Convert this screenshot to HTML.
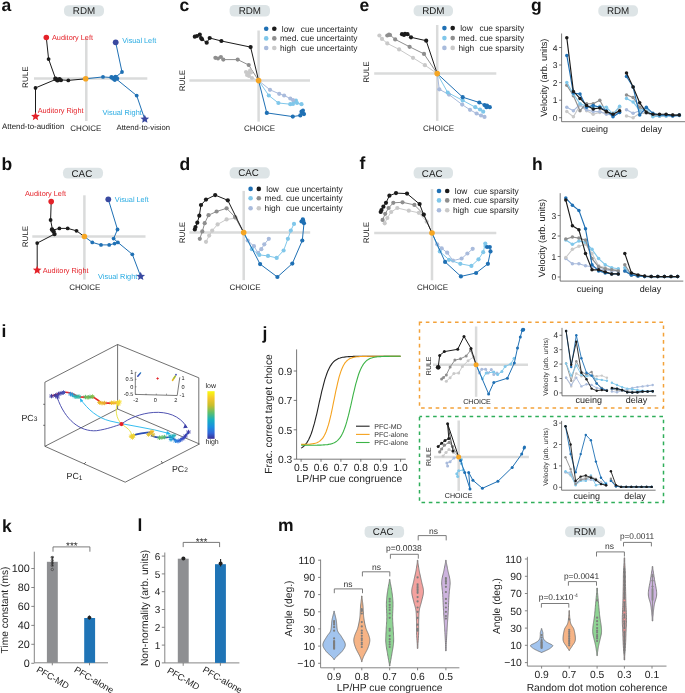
<!DOCTYPE html>
<html><head><meta charset="utf-8"><style>
html,body{margin:0;padding:0;background:#fff;}
svg{display:block;font-family:"Liberation Sans", sans-serif;filter:blur(0.35px);text-rendering:geometricPrecision;}
</style></head><body>
<svg width="685" height="693" viewBox="0 0 685 693">
<rect width="685" height="693" fill="#fff"/>
<text x="1.5" y="10.5" font-size="17.5" fill="#111" font-weight="bold">a</text>
<rect x="64" y="5.2" width="40" height="11.2" rx="4.6" fill="#dde4e6"/>
<text x="84.0" y="14.3" font-size="9.8" text-anchor="middle" fill="#222">RDM</text>
<line x1="86.3" y1="38.5" x2="86.3" y2="121.0" stroke="#dadbdb" stroke-width="2.5"/>
<line x1="34.0" y1="78.6" x2="147.3" y2="78.6" stroke="#dadbdb" stroke-width="2.5"/>
<text x="28.3" y="77.2" font-size="8.0" text-anchor="middle" fill="#222" transform="rotate(-90 28.3 77.2)">RULE</text>
<text x="85.9" y="130.6" font-size="8.0" text-anchor="middle" fill="#222">CHOICE</text>
<polyline points="46.3,37.5 48.6,59.1 55.5,78.5" fill="none" stroke="#1b1b1b" stroke-width="1" stroke-linejoin="round"/>
<polyline points="35.5,116.4 35.5,87.9 55.5,79.5" fill="none" stroke="#1b1b1b" stroke-width="1" stroke-linejoin="round"/>
<polyline points="55.5,79.5 68.3,80.4 85.7,78.8" fill="none" stroke="#1b1b1b" stroke-width="1" stroke-linejoin="round"/>
<circle cx="48.6" cy="59.1" r="1.9" fill="#1b1b1b"/>
<circle cx="35.5" cy="87.9" r="1.9" fill="#1b1b1b"/>
<circle cx="55.5" cy="78.8" r="2.4" fill="#1b1b1b"/>
<circle cx="57.5" cy="80.2" r="2.4" fill="#1b1b1b"/>
<circle cx="59.5" cy="79.3" r="2.2" fill="#1b1b1b"/>
<circle cx="61.0" cy="80.2" r="2" fill="#1b1b1b"/>
<circle cx="68.3" cy="80.4" r="1.9" fill="#1b1b1b"/>
<circle cx="46.3" cy="37.5" r="2.8" fill="#e42229"/>
<polygon points="35.50,111.90 36.72,114.83 39.87,115.08 37.47,117.14 38.20,120.22 35.50,118.57 32.80,120.22 33.53,117.14 31.13,115.08 34.28,114.83" fill="#e42229"/>
<text x="52.0" y="40.0" font-size="7.3" fill="#e42229">Auditory Left</text>
<text x="37.7" y="112.8" font-size="7.3" fill="#e42229">Auditory Right</text>
<text x="2.0" y="129.2" font-size="7.9" fill="#222">Attend-to-audition</text>
<polyline points="85.7,78.8 103.0,76.9 114.8,77.8" fill="none" stroke="#1f70b4" stroke-width="1" stroke-linejoin="round"/>
<polyline points="115.7,42.3 122.0,72.0 114.8,77.8" fill="none" stroke="#1f70b4" stroke-width="1" stroke-linejoin="round"/>
<polyline points="114.8,77.8 136.7,95.6 144.7,119.1" fill="none" stroke="#1f70b4" stroke-width="1" stroke-linejoin="round"/>
<circle cx="103.0" cy="76.9" r="1.9" fill="#1f70b4"/>
<circle cx="122.0" cy="72.0" r="1.9" fill="#1f70b4"/>
<circle cx="111.5" cy="77.3" r="2.2" fill="#1f70b4"/>
<circle cx="113.5" cy="78.5" r="2.4" fill="#1f70b4"/>
<circle cx="115.5" cy="77.0" r="2.2" fill="#1f70b4"/>
<circle cx="117.0" cy="78.5" r="2.2" fill="#1f70b4"/>
<circle cx="114.8" cy="80.0" r="1.9" fill="#1f70b4"/>
<circle cx="136.7" cy="95.6" r="1.9" fill="#1f70b4"/>
<circle cx="115.7" cy="42.3" r="2.9" fill="#3949a0"/>
<polygon points="144.80,114.50 146.02,117.43 149.17,117.68 146.77,119.74 147.50,122.82 144.80,121.17 142.10,122.82 142.83,119.74 140.43,117.68 143.58,117.43" fill="#3949a0"/>
<circle cx="85.7" cy="78.8" r="2.8" fill="#f6a623"/>
<text x="122.3" y="42.5" font-size="7.3" fill="#29abe2">Visual Left</text>
<text x="102.5" y="114.8" font-size="7.4" fill="#29abe2">Visual Right</text>
<text x="116.6" y="130.2" font-size="7.7" fill="#222">Attend-to-vision</text>
<text x="1.5" y="169.5" font-size="17.5" fill="#111" font-weight="bold">b</text>
<rect x="63" y="167.7" width="40" height="10.800000000000011" rx="4.6" fill="#dde4e6"/>
<text x="81.9" y="176.6" font-size="9.8" text-anchor="middle" fill="#222">CAC</text>
<line x1="84.4" y1="195.3" x2="84.4" y2="279.6" stroke="#dadbdb" stroke-width="2.5"/>
<line x1="32.3" y1="236.5" x2="145.5" y2="236.5" stroke="#dadbdb" stroke-width="2.5"/>
<text x="27.8" y="236.5" font-size="8.0" text-anchor="middle" fill="#222" transform="rotate(-90 27.8 236.5)">RULE</text>
<text x="84.8" y="289.8" font-size="8.0" text-anchor="middle" fill="#222">CHOICE</text>
<polyline points="51.2,201.6 50.6,220.0 52.6,230.2" fill="none" stroke="#1b1b1b" stroke-width="1" stroke-linejoin="round"/>
<polyline points="52.6,230.2 59.4,228.4 67.7,228.4 76.5,230.8 84.5,236.7" fill="none" stroke="#1b1b1b" stroke-width="1" stroke-linejoin="round"/>
<polyline points="37.2,270.2 37.2,243.1 54.5,234.1" fill="none" stroke="#1b1b1b" stroke-width="1" stroke-linejoin="round"/>
<circle cx="50.6" cy="220.0" r="1.9" fill="#1b1b1b"/>
<circle cx="52.0" cy="229.5" r="2.2" fill="#1b1b1b"/>
<circle cx="53.5" cy="231.2" r="2.2" fill="#1b1b1b"/>
<circle cx="54.5" cy="234.1" r="2.2" fill="#1b1b1b"/>
<circle cx="59.4" cy="228.4" r="1.9" fill="#1b1b1b"/>
<circle cx="67.7" cy="228.4" r="1.9" fill="#1b1b1b"/>
<circle cx="76.5" cy="230.8" r="1.9" fill="#1b1b1b"/>
<circle cx="37.2" cy="243.1" r="1.9" fill="#1b1b1b"/>
<circle cx="51.2" cy="201.6" r="2.8" fill="#e42229"/>
<polygon points="37.20,265.60 38.42,268.53 41.57,268.78 39.17,270.84 39.90,273.92 37.20,272.27 34.50,273.92 35.23,270.84 32.83,268.78 35.98,268.53" fill="#e42229"/>
<text x="25.0" y="195.9" font-size="7.3" fill="#e42229">Auditory Left</text>
<text x="42.7" y="273.0" font-size="7.3" fill="#e42229">Auditory Right</text>
<polyline points="84.5,236.7 92.3,242.4 101.0,244.9 109.2,244.9 114.6,243.6 117.9,242.4" fill="none" stroke="#1f70b4" stroke-width="1" stroke-linejoin="round"/>
<polyline points="108.3,199.3 117.5,229.5 113.6,238.6 117.9,242.4 132.3,254.3 140.7,276.4" fill="none" stroke="#1f70b4" stroke-width="1" stroke-linejoin="round"/>
<circle cx="92.3" cy="242.4" r="1.9" fill="#1f70b4"/>
<circle cx="101.0" cy="244.9" r="1.9" fill="#1f70b4"/>
<circle cx="109.2" cy="244.9" r="1.9" fill="#1f70b4"/>
<circle cx="114.6" cy="243.6" r="1.9" fill="#1f70b4"/>
<circle cx="117.9" cy="242.4" r="1.9" fill="#1f70b4"/>
<circle cx="113.6" cy="238.6" r="1.9" fill="#1f70b4"/>
<circle cx="117.5" cy="229.5" r="1.9" fill="#1f70b4"/>
<circle cx="132.3" cy="254.3" r="1.9" fill="#1f70b4"/>
<circle cx="108.3" cy="199.3" r="2.9" fill="#3949a0"/>
<polygon points="140.70,271.80 141.92,274.73 145.07,274.98 142.67,277.04 143.40,280.12 140.70,278.47 138.00,280.12 138.73,277.04 136.33,274.98 139.48,274.73" fill="#3949a0"/>
<circle cx="84.4" cy="236.5" r="2.8" fill="#f6a623"/>
<text x="114.8" y="201.8" font-size="7.3" fill="#29abe2">Visual Left</text>
<text x="98.0" y="279.2" font-size="7.4" fill="#29abe2">Visual Right</text>
<text x="179.5" y="11.0" font-size="17.5" fill="#111" font-weight="bold">c</text>
<rect x="229.6" y="5" width="40.400000000000006" height="11.600000000000001" rx="4.6" fill="#dde4e6"/>
<text x="249.8" y="14.3" font-size="9.8" text-anchor="middle" fill="#222">RDM</text>
<line x1="258.6" y1="30.5" x2="258.6" y2="121.6" stroke="#dadbdb" stroke-width="2.5"/>
<line x1="189.4" y1="80.6" x2="310.0" y2="80.6" stroke="#dadbdb" stroke-width="2.5"/>
<text x="184.9" y="80.6" font-size="8.0" text-anchor="middle" fill="#222" transform="rotate(-90 184.9 80.6)">RULE</text>
<text x="259.6" y="130.5" font-size="8.0" text-anchor="middle" fill="#222">CHOICE</text>
<polyline points="194.8,36.7 199.8,34.7 202.0,39.2 206.7,42.7 209.7,38.0 221.4,41.0 250.6,47.1 258.6,80.6" fill="none" stroke="#1b1b1b" stroke-width="1" stroke-linejoin="round"/>
<circle cx="194.8" cy="36.7" r="2.1" fill="#1b1b1b"/>
<circle cx="199.8" cy="34.7" r="2.1" fill="#1b1b1b"/>
<circle cx="202.0" cy="39.2" r="2.1" fill="#1b1b1b"/>
<circle cx="206.7" cy="42.7" r="2.1" fill="#1b1b1b"/>
<circle cx="209.7" cy="38.0" r="2.1" fill="#1b1b1b"/>
<circle cx="221.4" cy="41.0" r="2.1" fill="#1b1b1b"/>
<circle cx="250.6" cy="47.1" r="2.1" fill="#1b1b1b"/>
<circle cx="258.6" cy="80.6" r="2.1" fill="#1b1b1b"/>
<circle cx="197.0" cy="36.0" r="2" fill="#1b1b1b"/>
<circle cx="201.0" cy="38.0" r="2" fill="#1b1b1b"/>
<polyline points="215.4,57.8 220.9,57.0 223.3,59.6 237.7,59.6 248.7,65.0 258.6,80.6" fill="none" stroke="#8e8e8e" stroke-width="1" stroke-linejoin="round"/>
<circle cx="215.4" cy="57.8" r="2.1" fill="#8e8e8e"/>
<circle cx="220.9" cy="57.0" r="2.1" fill="#8e8e8e"/>
<circle cx="223.3" cy="59.6" r="2.1" fill="#8e8e8e"/>
<circle cx="237.7" cy="59.6" r="2.1" fill="#8e8e8e"/>
<circle cx="248.7" cy="65.0" r="2.1" fill="#8e8e8e"/>
<circle cx="258.6" cy="80.6" r="2.1" fill="#8e8e8e"/>
<circle cx="218.0" cy="58.5" r="2" fill="#8e8e8e"/>
<polyline points="246.0,72.0 248.2,73.2 251.0,72.5 249.0,76.0 252.0,78.0 258.6,80.6" fill="none" stroke="#c9c9c9" stroke-width="1" stroke-linejoin="round"/>
<circle cx="246.0" cy="72.0" r="2.1" fill="#c9c9c9"/>
<circle cx="248.2" cy="73.2" r="2.1" fill="#c9c9c9"/>
<circle cx="251.0" cy="72.5" r="2.1" fill="#c9c9c9"/>
<circle cx="249.0" cy="76.0" r="2.1" fill="#c9c9c9"/>
<circle cx="252.0" cy="78.0" r="2.1" fill="#c9c9c9"/>
<circle cx="258.6" cy="80.6" r="2.1" fill="#c9c9c9"/>
<circle cx="247.0" cy="75.0" r="2" fill="#c9c9c9"/>
<circle cx="250.0" cy="70.5" r="2" fill="#c9c9c9"/>
<polyline points="258.6,80.6 266.8,112.9 292.8,116.6 300.3,115.4 301.5,111.7 304.0,114.1" fill="none" stroke="#1f70b4" stroke-width="1" stroke-linejoin="round"/>
<circle cx="258.6" cy="80.6" r="2.1" fill="#1f70b4"/>
<circle cx="266.8" cy="112.9" r="2.1" fill="#1f70b4"/>
<circle cx="292.8" cy="116.6" r="2.1" fill="#1f70b4"/>
<circle cx="300.3" cy="115.4" r="2.1" fill="#1f70b4"/>
<circle cx="301.5" cy="111.7" r="2.1" fill="#1f70b4"/>
<circle cx="304.0" cy="114.1" r="2.1" fill="#1f70b4"/>
<circle cx="302.5" cy="113.0" r="2.2" fill="#1f70b4"/>
<circle cx="303.0" cy="110.5" r="2" fill="#1f70b4"/>
<polyline points="258.6,80.6 268.8,95.5 278.4,103.0 290.3,104.2 294.0,101.7 297.0,103.0 301.5,104.2" fill="none" stroke="#80c7ea" stroke-width="1" stroke-linejoin="round"/>
<circle cx="258.6" cy="80.6" r="2.1" fill="#80c7ea"/>
<circle cx="268.8" cy="95.5" r="2.1" fill="#80c7ea"/>
<circle cx="278.4" cy="103.0" r="2.1" fill="#80c7ea"/>
<circle cx="290.3" cy="104.2" r="2.1" fill="#80c7ea"/>
<circle cx="294.0" cy="101.7" r="2.1" fill="#80c7ea"/>
<circle cx="297.0" cy="103.0" r="2.1" fill="#80c7ea"/>
<circle cx="301.5" cy="104.2" r="2.1" fill="#80c7ea"/>
<circle cx="293.0" cy="104.0" r="2" fill="#80c7ea"/>
<circle cx="296.0" cy="100.5" r="2" fill="#80c7ea"/>
<polyline points="258.6,80.6 270.0,89.8 279.2,93.8 284.1,95.5 290.3,98.5 293.0,100.0" fill="none" stroke="#a9bbdc" stroke-width="1" stroke-linejoin="round"/>
<circle cx="258.6" cy="80.6" r="2.1" fill="#a9bbdc"/>
<circle cx="270.0" cy="89.8" r="2.1" fill="#a9bbdc"/>
<circle cx="279.2" cy="93.8" r="2.1" fill="#a9bbdc"/>
<circle cx="284.1" cy="95.5" r="2.1" fill="#a9bbdc"/>
<circle cx="290.3" cy="98.5" r="2.1" fill="#a9bbdc"/>
<circle cx="293.0" cy="100.0" r="2.1" fill="#a9bbdc"/>
<circle cx="258.6" cy="80.6" r="2.8" fill="#f6a623"/>
<circle cx="266.2" cy="28.8" r="2.3" fill="#1f70b4"/>
<circle cx="274.3" cy="28.8" r="2.3" fill="#1b1b1b"/>
<text x="281.8" y="31.6" font-size="8.4" fill="#222">low</text>
<text x="300.7" y="31.6" font-size="8.4" fill="#222">cue uncertainty</text>
<circle cx="266.2" cy="38.4" r="2.3" fill="#80c7ea"/>
<circle cx="274.3" cy="38.4" r="2.3" fill="#8e8e8e"/>
<text x="280.0" y="41.2" font-size="8.4" fill="#222">med.</text>
<text x="300.7" y="41.2" font-size="8.4" fill="#222">cue uncertainty</text>
<circle cx="266.2" cy="48.0" r="2.3" fill="#a9bbdc"/>
<circle cx="274.3" cy="48.0" r="2.3" fill="#c9c9c9"/>
<text x="280.0" y="50.8" font-size="8.4" fill="#222">high</text>
<text x="300.7" y="50.8" font-size="8.4" fill="#222">cue uncertainty</text>
<text x="359.5" y="10.5" font-size="17.5" fill="#111" font-weight="bold">e</text>
<rect x="413.6" y="5.3" width="39.39999999999998" height="11.0" rx="4.6" fill="#dde4e6"/>
<text x="433.3" y="14.3" font-size="9.8" text-anchor="middle" fill="#222">RDM</text>
<line x1="437.2" y1="25.0" x2="437.2" y2="120.9" stroke="#dadbdb" stroke-width="2.5"/>
<line x1="374.2" y1="73.6" x2="496.3" y2="73.6" stroke="#dadbdb" stroke-width="2.5"/>
<text x="369.5" y="72.2" font-size="8.0" text-anchor="middle" fill="#222" transform="rotate(-90 369.5 72.2)">RULE</text>
<text x="438.6" y="130.6" font-size="8.0" text-anchor="middle" fill="#222">CHOICE</text>
<polyline points="379.4,35.5 382.0,38.9 387.3,43.4 399.1,49.4 413.0,57.8 424.9,65.2 437.2,73.6" fill="none" stroke="#c9c9c9" stroke-width="1" stroke-linejoin="round"/>
<circle cx="379.4" cy="35.5" r="2.1" fill="#c9c9c9"/>
<circle cx="382.0" cy="38.9" r="2.1" fill="#c9c9c9"/>
<circle cx="387.3" cy="43.4" r="2.1" fill="#c9c9c9"/>
<circle cx="399.1" cy="49.4" r="2.1" fill="#c9c9c9"/>
<circle cx="413.0" cy="57.8" r="2.1" fill="#c9c9c9"/>
<circle cx="424.9" cy="65.2" r="2.1" fill="#c9c9c9"/>
<circle cx="437.2" cy="73.6" r="2.1" fill="#c9c9c9"/>
<polyline points="387.3,35.5 390.0,35.0 395.2,39.4 409.6,46.8 424.0,53.9 437.2,73.6" fill="none" stroke="#8e8e8e" stroke-width="1" stroke-linejoin="round"/>
<circle cx="387.3" cy="35.5" r="2.1" fill="#8e8e8e"/>
<circle cx="390.0" cy="35.0" r="2.1" fill="#8e8e8e"/>
<circle cx="395.2" cy="39.4" r="2.1" fill="#8e8e8e"/>
<circle cx="409.6" cy="46.8" r="2.1" fill="#8e8e8e"/>
<circle cx="424.0" cy="53.9" r="2.1" fill="#8e8e8e"/>
<circle cx="437.2" cy="73.6" r="2.1" fill="#8e8e8e"/>
<circle cx="389.0" cy="34.5" r="2" fill="#8e8e8e"/>
<polyline points="402.0,34.2 405.0,33.8 407.5,34.2 411.0,37.3 426.2,40.7 437.2,73.6" fill="none" stroke="#1b1b1b" stroke-width="1" stroke-linejoin="round"/>
<circle cx="402.0" cy="34.2" r="2.1" fill="#1b1b1b"/>
<circle cx="405.0" cy="33.8" r="2.1" fill="#1b1b1b"/>
<circle cx="407.5" cy="34.2" r="2.1" fill="#1b1b1b"/>
<circle cx="411.0" cy="37.3" r="2.1" fill="#1b1b1b"/>
<circle cx="426.2" cy="40.7" r="2.1" fill="#1b1b1b"/>
<circle cx="437.2" cy="73.6" r="2.1" fill="#1b1b1b"/>
<circle cx="404.0" cy="35.0" r="2" fill="#1b1b1b"/>
<polyline points="437.2,73.6 439.3,89.3 449.0,94.6 462.2,104.6 470.0,109.8 476.6,113.5 481.0,115.5 484.5,116.9" fill="none" stroke="#a9bbdc" stroke-width="1" stroke-linejoin="round"/>
<circle cx="437.2" cy="73.6" r="2.1" fill="#a9bbdc"/>
<circle cx="439.3" cy="89.3" r="2.1" fill="#a9bbdc"/>
<circle cx="449.0" cy="94.6" r="2.1" fill="#a9bbdc"/>
<circle cx="462.2" cy="104.6" r="2.1" fill="#a9bbdc"/>
<circle cx="470.0" cy="109.8" r="2.1" fill="#a9bbdc"/>
<circle cx="476.6" cy="113.5" r="2.1" fill="#a9bbdc"/>
<circle cx="481.0" cy="115.5" r="2.1" fill="#a9bbdc"/>
<circle cx="484.5" cy="116.9" r="2.1" fill="#a9bbdc"/>
<polyline points="437.2,73.6 447.7,92.5 462.7,100.4 475.3,107.2 480.0,109.5 483.2,111.7" fill="none" stroke="#80c7ea" stroke-width="1" stroke-linejoin="round"/>
<circle cx="437.2" cy="73.6" r="2.1" fill="#80c7ea"/>
<circle cx="447.7" cy="92.5" r="2.1" fill="#80c7ea"/>
<circle cx="462.7" cy="100.4" r="2.1" fill="#80c7ea"/>
<circle cx="475.3" cy="107.2" r="2.1" fill="#80c7ea"/>
<circle cx="480.0" cy="109.5" r="2.1" fill="#80c7ea"/>
<circle cx="483.2" cy="111.7" r="2.1" fill="#80c7ea"/>
<polyline points="437.2,73.6 462.7,97.2 479.3,102.5 484.5,105.1 487.0,105.5 489.8,107.2" fill="none" stroke="#1f70b4" stroke-width="1" stroke-linejoin="round"/>
<circle cx="437.2" cy="73.6" r="2.1" fill="#1f70b4"/>
<circle cx="462.7" cy="97.2" r="2.1" fill="#1f70b4"/>
<circle cx="479.3" cy="102.5" r="2.1" fill="#1f70b4"/>
<circle cx="484.5" cy="105.1" r="2.1" fill="#1f70b4"/>
<circle cx="487.0" cy="105.5" r="2.1" fill="#1f70b4"/>
<circle cx="489.8" cy="107.2" r="2.1" fill="#1f70b4"/>
<circle cx="486.5" cy="107.0" r="2.2" fill="#1f70b4"/>
<circle cx="437.2" cy="73.6" r="2.8" fill="#f6a623"/>
<circle cx="444.4" cy="28.1" r="2.3" fill="#1f70b4"/>
<circle cx="452.7" cy="28.1" r="2.3" fill="#1b1b1b"/>
<text x="460.2" y="30.9" font-size="8.4" fill="#222">low</text>
<text x="479.5" y="30.9" font-size="8.4" fill="#222">cue sparsity</text>
<circle cx="444.4" cy="38.1" r="2.3" fill="#80c7ea"/>
<circle cx="452.7" cy="38.1" r="2.3" fill="#8e8e8e"/>
<text x="458.4" y="40.9" font-size="8.4" fill="#222">med.</text>
<text x="479.5" y="40.9" font-size="8.4" fill="#222">cue sparsity</text>
<circle cx="444.4" cy="47.9" r="2.3" fill="#a9bbdc"/>
<circle cx="452.7" cy="47.9" r="2.3" fill="#c9c9c9"/>
<text x="458.4" y="50.7" font-size="8.4" fill="#222">high</text>
<text x="479.5" y="50.7" font-size="8.4" fill="#222">cue sparsity</text>
<text x="531.0" y="10.6" font-size="17.5" fill="#111" font-weight="bold">g</text>
<rect x="598.3" y="5.3" width="39.700000000000045" height="11.099999999999998" rx="4.6" fill="#dde4e6"/>
<text x="618.1" y="14.4" font-size="9.8" text-anchor="middle" fill="#222">RDM</text>
<line x1="561.6" y1="33.5" x2="561.6" y2="121.7" stroke="#555" stroke-width="0.8"/>
<line x1="561.6" y1="121.7" x2="685.0" y2="121.7" stroke="#555" stroke-width="0.8"/>
<line x1="559.1" y1="117.7" x2="561.6" y2="117.7" stroke="#555" stroke-width="0.8"/>
<text x="557.6" y="120.8" font-size="8.5" text-anchor="end" fill="#222">0</text>
<line x1="559.1" y1="100.2" x2="561.6" y2="100.2" stroke="#555" stroke-width="0.8"/>
<text x="557.6" y="103.2" font-size="8.5" text-anchor="end" fill="#222">1</text>
<line x1="559.1" y1="82.6" x2="561.6" y2="82.6" stroke="#555" stroke-width="0.8"/>
<text x="557.6" y="85.7" font-size="8.5" text-anchor="end" fill="#222">2</text>
<line x1="559.1" y1="65.0" x2="561.6" y2="65.0" stroke="#555" stroke-width="0.8"/>
<text x="557.6" y="68.1" font-size="8.5" text-anchor="end" fill="#222">3</text>
<line x1="559.1" y1="47.5" x2="561.6" y2="47.5" stroke="#555" stroke-width="0.8"/>
<text x="557.6" y="50.6" font-size="8.5" text-anchor="end" fill="#222">4</text>
<text x="547.2" y="77.7" font-size="9.2" text-anchor="middle" fill="#222" transform="rotate(-90 547.2 77.7)">Velocity (arb. units)</text>
<text x="594.7" y="131.7" font-size="9" text-anchor="middle" fill="#222">cueing</text>
<text x="651.2" y="131.7" font-size="9" text-anchor="middle" fill="#222">delay</text>
<polyline points="566.8,111.6 573.4,116.8 580.0,105.4 586.6,110.7 593.2,114.2 599.8,112.4 606.4,112.4 613.0,114.2 619.6,107.2" fill="none" stroke="#c9c9c9" stroke-width="1.15" stroke-linejoin="round"/>
<circle cx="566.8" cy="111.6" r="1.75" fill="#c9c9c9"/>
<circle cx="573.4" cy="116.8" r="1.75" fill="#c9c9c9"/>
<circle cx="580.0" cy="105.4" r="1.75" fill="#c9c9c9"/>
<circle cx="586.6" cy="110.7" r="1.75" fill="#c9c9c9"/>
<circle cx="593.2" cy="114.2" r="1.75" fill="#c9c9c9"/>
<circle cx="599.8" cy="112.4" r="1.75" fill="#c9c9c9"/>
<circle cx="606.4" cy="112.4" r="1.75" fill="#c9c9c9"/>
<circle cx="613.0" cy="114.2" r="1.75" fill="#c9c9c9"/>
<circle cx="619.6" cy="107.2" r="1.75" fill="#c9c9c9"/>
<polyline points="626.5,115.9 633.1,117.7 639.7,113.3 646.3,113.3 652.9,115.1 659.5,115.9 666.1,115.9 672.7,115.9 679.3,115.6" fill="none" stroke="#c9c9c9" stroke-width="1.15" stroke-linejoin="round"/>
<circle cx="626.5" cy="115.9" r="1.75" fill="#c9c9c9"/>
<circle cx="633.1" cy="117.7" r="1.75" fill="#c9c9c9"/>
<circle cx="639.7" cy="113.3" r="1.75" fill="#c9c9c9"/>
<circle cx="646.3" cy="113.3" r="1.75" fill="#c9c9c9"/>
<circle cx="652.9" cy="115.1" r="1.75" fill="#c9c9c9"/>
<circle cx="659.5" cy="115.9" r="1.75" fill="#c9c9c9"/>
<circle cx="666.1" cy="115.9" r="1.75" fill="#c9c9c9"/>
<circle cx="672.7" cy="115.9" r="1.75" fill="#c9c9c9"/>
<circle cx="679.3" cy="115.6" r="1.75" fill="#c9c9c9"/>
<polyline points="566.8,107.2 573.4,110.7 580.0,104.5 586.6,109.8 593.2,111.6 599.8,111.6 606.4,114.2 613.0,115.1 619.6,112.4" fill="none" stroke="#a9bbdc" stroke-width="1.15" stroke-linejoin="round"/>
<circle cx="566.8" cy="107.2" r="1.75" fill="#a9bbdc"/>
<circle cx="573.4" cy="110.7" r="1.75" fill="#a9bbdc"/>
<circle cx="580.0" cy="104.5" r="1.75" fill="#a9bbdc"/>
<circle cx="586.6" cy="109.8" r="1.75" fill="#a9bbdc"/>
<circle cx="593.2" cy="111.6" r="1.75" fill="#a9bbdc"/>
<circle cx="599.8" cy="111.6" r="1.75" fill="#a9bbdc"/>
<circle cx="606.4" cy="114.2" r="1.75" fill="#a9bbdc"/>
<circle cx="613.0" cy="115.1" r="1.75" fill="#a9bbdc"/>
<circle cx="619.6" cy="112.4" r="1.75" fill="#a9bbdc"/>
<polyline points="626.5,109.8 633.1,113.3 639.7,110.7 646.3,112.4 652.9,115.1 659.5,115.6 666.1,115.9 672.7,115.9 679.3,115.6" fill="none" stroke="#a9bbdc" stroke-width="1.15" stroke-linejoin="round"/>
<circle cx="626.5" cy="109.8" r="1.75" fill="#a9bbdc"/>
<circle cx="633.1" cy="113.3" r="1.75" fill="#a9bbdc"/>
<circle cx="639.7" cy="110.7" r="1.75" fill="#a9bbdc"/>
<circle cx="646.3" cy="112.4" r="1.75" fill="#a9bbdc"/>
<circle cx="652.9" cy="115.1" r="1.75" fill="#a9bbdc"/>
<circle cx="659.5" cy="115.6" r="1.75" fill="#a9bbdc"/>
<circle cx="666.1" cy="115.9" r="1.75" fill="#a9bbdc"/>
<circle cx="672.7" cy="115.9" r="1.75" fill="#a9bbdc"/>
<circle cx="679.3" cy="115.6" r="1.75" fill="#a9bbdc"/>
<polyline points="566.8,85.2 573.4,95.8 580.0,110.7 586.6,103.7 593.2,103.7 599.8,100.2 606.4,112.4 613.0,113.3 619.6,111.6" fill="none" stroke="#8e8e8e" stroke-width="1.15" stroke-linejoin="round"/>
<circle cx="566.8" cy="85.2" r="1.75" fill="#8e8e8e"/>
<circle cx="573.4" cy="95.8" r="1.75" fill="#8e8e8e"/>
<circle cx="580.0" cy="110.7" r="1.75" fill="#8e8e8e"/>
<circle cx="586.6" cy="103.7" r="1.75" fill="#8e8e8e"/>
<circle cx="593.2" cy="103.7" r="1.75" fill="#8e8e8e"/>
<circle cx="599.8" cy="100.2" r="1.75" fill="#8e8e8e"/>
<circle cx="606.4" cy="112.4" r="1.75" fill="#8e8e8e"/>
<circle cx="613.0" cy="113.3" r="1.75" fill="#8e8e8e"/>
<circle cx="619.6" cy="111.6" r="1.75" fill="#8e8e8e"/>
<polyline points="626.5,94.9 633.1,97.5 639.7,107.2 646.3,111.6 652.9,115.9 659.5,115.9 666.1,115.1 672.7,115.1 679.3,115.1" fill="none" stroke="#8e8e8e" stroke-width="1.15" stroke-linejoin="round"/>
<circle cx="626.5" cy="94.9" r="1.75" fill="#8e8e8e"/>
<circle cx="633.1" cy="97.5" r="1.75" fill="#8e8e8e"/>
<circle cx="639.7" cy="107.2" r="1.75" fill="#8e8e8e"/>
<circle cx="646.3" cy="111.6" r="1.75" fill="#8e8e8e"/>
<circle cx="652.9" cy="115.9" r="1.75" fill="#8e8e8e"/>
<circle cx="659.5" cy="115.9" r="1.75" fill="#8e8e8e"/>
<circle cx="666.1" cy="115.1" r="1.75" fill="#8e8e8e"/>
<circle cx="672.7" cy="115.1" r="1.75" fill="#8e8e8e"/>
<circle cx="679.3" cy="115.1" r="1.75" fill="#8e8e8e"/>
<polyline points="566.8,82.6 573.4,94.0 580.0,103.7 586.6,106.3 593.2,107.2 599.8,106.3 606.4,107.2 613.0,114.2 619.6,106.3" fill="none" stroke="#80c7ea" stroke-width="1.15" stroke-linejoin="round"/>
<circle cx="566.8" cy="82.6" r="1.75" fill="#80c7ea"/>
<circle cx="573.4" cy="94.0" r="1.75" fill="#80c7ea"/>
<circle cx="580.0" cy="103.7" r="1.75" fill="#80c7ea"/>
<circle cx="586.6" cy="106.3" r="1.75" fill="#80c7ea"/>
<circle cx="593.2" cy="107.2" r="1.75" fill="#80c7ea"/>
<circle cx="599.8" cy="106.3" r="1.75" fill="#80c7ea"/>
<circle cx="606.4" cy="107.2" r="1.75" fill="#80c7ea"/>
<circle cx="613.0" cy="114.2" r="1.75" fill="#80c7ea"/>
<circle cx="619.6" cy="106.3" r="1.75" fill="#80c7ea"/>
<polyline points="626.5,98.4 633.1,101.9 639.7,110.7 646.3,108.0 652.9,116.8 659.5,115.9 666.1,115.9 672.7,115.6 679.3,115.6" fill="none" stroke="#80c7ea" stroke-width="1.15" stroke-linejoin="round"/>
<circle cx="626.5" cy="98.4" r="1.75" fill="#80c7ea"/>
<circle cx="633.1" cy="101.9" r="1.75" fill="#80c7ea"/>
<circle cx="639.7" cy="110.7" r="1.75" fill="#80c7ea"/>
<circle cx="646.3" cy="108.0" r="1.75" fill="#80c7ea"/>
<circle cx="652.9" cy="116.8" r="1.75" fill="#80c7ea"/>
<circle cx="659.5" cy="115.9" r="1.75" fill="#80c7ea"/>
<circle cx="666.1" cy="115.9" r="1.75" fill="#80c7ea"/>
<circle cx="672.7" cy="115.6" r="1.75" fill="#80c7ea"/>
<circle cx="679.3" cy="115.6" r="1.75" fill="#80c7ea"/>
<polyline points="566.8,55.4 573.4,93.1 580.0,94.0 586.6,107.2 593.2,105.4 599.8,107.2 606.4,110.7 613.0,116.8 619.6,112.4" fill="none" stroke="#1f70b4" stroke-width="1.15" stroke-linejoin="round"/>
<circle cx="566.8" cy="55.4" r="1.75" fill="#1f70b4"/>
<circle cx="573.4" cy="93.1" r="1.75" fill="#1f70b4"/>
<circle cx="580.0" cy="94.0" r="1.75" fill="#1f70b4"/>
<circle cx="586.6" cy="107.2" r="1.75" fill="#1f70b4"/>
<circle cx="593.2" cy="105.4" r="1.75" fill="#1f70b4"/>
<circle cx="599.8" cy="107.2" r="1.75" fill="#1f70b4"/>
<circle cx="606.4" cy="110.7" r="1.75" fill="#1f70b4"/>
<circle cx="613.0" cy="116.8" r="1.75" fill="#1f70b4"/>
<circle cx="619.6" cy="112.4" r="1.75" fill="#1f70b4"/>
<polyline points="626.5,76.5 633.1,87.0 639.7,115.1 646.3,107.2 652.9,113.3 659.5,115.1 666.1,115.1 672.7,115.9 679.3,115.1" fill="none" stroke="#1f70b4" stroke-width="1.15" stroke-linejoin="round"/>
<circle cx="626.5" cy="76.5" r="1.75" fill="#1f70b4"/>
<circle cx="633.1" cy="87.0" r="1.75" fill="#1f70b4"/>
<circle cx="639.7" cy="115.1" r="1.75" fill="#1f70b4"/>
<circle cx="646.3" cy="107.2" r="1.75" fill="#1f70b4"/>
<circle cx="652.9" cy="113.3" r="1.75" fill="#1f70b4"/>
<circle cx="659.5" cy="115.1" r="1.75" fill="#1f70b4"/>
<circle cx="666.1" cy="115.1" r="1.75" fill="#1f70b4"/>
<circle cx="672.7" cy="115.9" r="1.75" fill="#1f70b4"/>
<circle cx="679.3" cy="115.1" r="1.75" fill="#1f70b4"/>
<polyline points="566.8,37.8 573.4,91.4 580.0,98.4 586.6,105.4 593.2,108.9 599.8,108.0 606.4,111.6 613.0,114.2 619.6,110.7" fill="none" stroke="#1b1b1b" stroke-width="1.15" stroke-linejoin="round"/>
<circle cx="566.8" cy="37.8" r="1.75" fill="#1b1b1b"/>
<circle cx="573.4" cy="91.4" r="1.75" fill="#1b1b1b"/>
<circle cx="580.0" cy="98.4" r="1.75" fill="#1b1b1b"/>
<circle cx="586.6" cy="105.4" r="1.75" fill="#1b1b1b"/>
<circle cx="593.2" cy="108.9" r="1.75" fill="#1b1b1b"/>
<circle cx="599.8" cy="108.0" r="1.75" fill="#1b1b1b"/>
<circle cx="606.4" cy="111.6" r="1.75" fill="#1b1b1b"/>
<circle cx="613.0" cy="114.2" r="1.75" fill="#1b1b1b"/>
<circle cx="619.6" cy="110.7" r="1.75" fill="#1b1b1b"/>
<polyline points="626.5,72.9 633.1,87.0 639.7,102.8 646.3,112.4 652.9,114.2 659.5,114.2 666.1,114.2 672.7,115.1 679.3,115.1" fill="none" stroke="#1b1b1b" stroke-width="1.15" stroke-linejoin="round"/>
<circle cx="626.5" cy="72.9" r="1.75" fill="#1b1b1b"/>
<circle cx="633.1" cy="87.0" r="1.75" fill="#1b1b1b"/>
<circle cx="639.7" cy="102.8" r="1.75" fill="#1b1b1b"/>
<circle cx="646.3" cy="112.4" r="1.75" fill="#1b1b1b"/>
<circle cx="652.9" cy="114.2" r="1.75" fill="#1b1b1b"/>
<circle cx="659.5" cy="114.2" r="1.75" fill="#1b1b1b"/>
<circle cx="666.1" cy="114.2" r="1.75" fill="#1b1b1b"/>
<circle cx="672.7" cy="115.1" r="1.75" fill="#1b1b1b"/>
<circle cx="679.3" cy="115.1" r="1.75" fill="#1b1b1b"/>
<text x="179.5" y="169.7" font-size="17.5" fill="#111" font-weight="bold">d</text>
<rect x="229.6" y="167.3" width="40.20000000000002" height="11.199999999999989" rx="4.6" fill="#dde4e6"/>
<text x="248.6" y="176.4" font-size="9.8" text-anchor="middle" fill="#222">CAC</text>
<line x1="243.7" y1="190.9" x2="243.7" y2="280.2" stroke="#dadbdb" stroke-width="2.5"/>
<line x1="189.4" y1="232.6" x2="310.2" y2="232.6" stroke="#dadbdb" stroke-width="2.5"/>
<text x="185.3" y="232.5" font-size="8.0" text-anchor="middle" fill="#222" transform="rotate(-90 185.3 232.5)">RULE</text>
<text x="245.1" y="289.8" font-size="8.0" text-anchor="middle" fill="#222">CHOICE</text>
<polyline points="243.7,232.6 235.8,218.2 226.6,219.4 217.6,224.4 212.2,230.6 209.2,235.6 206.0,241.8" fill="none" stroke="#c9c9c9" stroke-width="1" stroke-linejoin="round"/>
<circle cx="243.7" cy="232.6" r="2.1" fill="#c9c9c9"/>
<circle cx="235.8" cy="218.2" r="2.1" fill="#c9c9c9"/>
<circle cx="226.6" cy="219.4" r="2.1" fill="#c9c9c9"/>
<circle cx="217.6" cy="224.4" r="2.1" fill="#c9c9c9"/>
<circle cx="212.2" cy="230.6" r="2.1" fill="#c9c9c9"/>
<circle cx="209.2" cy="235.6" r="2.1" fill="#c9c9c9"/>
<circle cx="206.0" cy="241.8" r="2.1" fill="#c9c9c9"/>
<polyline points="243.7,232.6 235.0,217.0 226.6,208.3 216.6,211.5 208.5,215.2 204.7,223.2 202.3,231.4 199.8,238.8" fill="none" stroke="#8e8e8e" stroke-width="1" stroke-linejoin="round"/>
<circle cx="243.7" cy="232.6" r="2.1" fill="#8e8e8e"/>
<circle cx="235.0" cy="217.0" r="2.1" fill="#8e8e8e"/>
<circle cx="226.6" cy="208.3" r="2.1" fill="#8e8e8e"/>
<circle cx="216.6" cy="211.5" r="2.1" fill="#8e8e8e"/>
<circle cx="208.5" cy="215.2" r="2.1" fill="#8e8e8e"/>
<circle cx="204.7" cy="223.2" r="2.1" fill="#8e8e8e"/>
<circle cx="202.3" cy="231.4" r="2.1" fill="#8e8e8e"/>
<circle cx="199.8" cy="238.8" r="2.1" fill="#8e8e8e"/>
<polyline points="243.7,232.6 227.8,200.3 215.2,195.1 206.0,199.6 201.0,205.0 199.3,215.7 197.3,222.7 195.5,227.0 194.8,229.4" fill="none" stroke="#1b1b1b" stroke-width="1" stroke-linejoin="round"/>
<circle cx="243.7" cy="232.6" r="2.1" fill="#1b1b1b"/>
<circle cx="227.8" cy="200.3" r="2.1" fill="#1b1b1b"/>
<circle cx="215.2" cy="195.1" r="2.1" fill="#1b1b1b"/>
<circle cx="206.0" cy="199.6" r="2.1" fill="#1b1b1b"/>
<circle cx="201.0" cy="205.0" r="2.1" fill="#1b1b1b"/>
<circle cx="199.3" cy="215.7" r="2.1" fill="#1b1b1b"/>
<circle cx="197.3" cy="222.7" r="2.1" fill="#1b1b1b"/>
<circle cx="195.5" cy="227.0" r="2.1" fill="#1b1b1b"/>
<circle cx="194.8" cy="229.4" r="2.1" fill="#1b1b1b"/>
<polyline points="243.7,232.6 247.7,240.5 253.9,246.2 258.1,252.9 261.3,249.2 264.3,244.3 268.8,238.8" fill="none" stroke="#a9bbdc" stroke-width="1" stroke-linejoin="round"/>
<circle cx="243.7" cy="232.6" r="2.1" fill="#a9bbdc"/>
<circle cx="247.7" cy="240.5" r="2.1" fill="#a9bbdc"/>
<circle cx="253.9" cy="246.2" r="2.1" fill="#a9bbdc"/>
<circle cx="258.1" cy="252.9" r="2.1" fill="#a9bbdc"/>
<circle cx="261.3" cy="249.2" r="2.1" fill="#a9bbdc"/>
<circle cx="264.3" cy="244.3" r="2.1" fill="#a9bbdc"/>
<circle cx="268.8" cy="238.8" r="2.1" fill="#a9bbdc"/>
<polyline points="243.7,232.6 251.9,249.2 259.3,254.9 268.0,255.9 276.7,257.9 283.6,250.5 287.9,238.8 290.8,230.6 294.0,223.9" fill="none" stroke="#80c7ea" stroke-width="1" stroke-linejoin="round"/>
<circle cx="243.7" cy="232.6" r="2.1" fill="#80c7ea"/>
<circle cx="251.9" cy="249.2" r="2.1" fill="#80c7ea"/>
<circle cx="259.3" cy="254.9" r="2.1" fill="#80c7ea"/>
<circle cx="268.0" cy="255.9" r="2.1" fill="#80c7ea"/>
<circle cx="276.7" cy="257.9" r="2.1" fill="#80c7ea"/>
<circle cx="283.6" cy="250.5" r="2.1" fill="#80c7ea"/>
<circle cx="287.9" cy="238.8" r="2.1" fill="#80c7ea"/>
<circle cx="290.8" cy="230.6" r="2.1" fill="#80c7ea"/>
<circle cx="294.0" cy="223.9" r="2.1" fill="#80c7ea"/>
<polyline points="243.7,232.6 260.1,264.1 277.4,277.0 292.3,263.6 302.3,240.5 304.0,223.2 302.8,219.4 301.5,221.5" fill="none" stroke="#1f70b4" stroke-width="1" stroke-linejoin="round"/>
<circle cx="243.7" cy="232.6" r="2.1" fill="#1f70b4"/>
<circle cx="260.1" cy="264.1" r="2.1" fill="#1f70b4"/>
<circle cx="277.4" cy="277.0" r="2.1" fill="#1f70b4"/>
<circle cx="292.3" cy="263.6" r="2.1" fill="#1f70b4"/>
<circle cx="302.3" cy="240.5" r="2.1" fill="#1f70b4"/>
<circle cx="304.0" cy="223.2" r="2.1" fill="#1f70b4"/>
<circle cx="302.8" cy="219.4" r="2.1" fill="#1f70b4"/>
<circle cx="301.5" cy="221.5" r="2.1" fill="#1f70b4"/>
<circle cx="303.0" cy="220.5" r="2.2" fill="#1f70b4"/>
<circle cx="243.7" cy="232.6" r="2.8" fill="#f6a623"/>
<circle cx="250.6" cy="188.9" r="2.3" fill="#1f70b4"/>
<circle cx="258.8" cy="188.9" r="2.3" fill="#1b1b1b"/>
<text x="266.3" y="191.7" font-size="8.4" fill="#222">low</text>
<text x="285.9" y="191.7" font-size="8.4" fill="#222">cue uncertainty</text>
<circle cx="250.6" cy="198.3" r="2.3" fill="#80c7ea"/>
<circle cx="258.8" cy="198.3" r="2.3" fill="#8e8e8e"/>
<text x="264.5" y="201.1" font-size="8.4" fill="#222">med.</text>
<text x="285.9" y="201.1" font-size="8.4" fill="#222">cue uncertainty</text>
<circle cx="250.6" cy="208.3" r="2.3" fill="#a9bbdc"/>
<circle cx="258.8" cy="208.3" r="2.3" fill="#c9c9c9"/>
<text x="264.5" y="211.1" font-size="8.4" fill="#222">high</text>
<text x="285.9" y="211.1" font-size="8.4" fill="#222">cue uncertainty</text>
<text x="359.5" y="169.2" font-size="17.5" fill="#111" font-weight="bold">f</text>
<rect x="413.6" y="167.3" width="39.39999999999998" height="11.299999999999983" rx="4.6" fill="#dde4e6"/>
<text x="432.2" y="176.5" font-size="9.8" text-anchor="middle" fill="#222">CAC</text>
<line x1="432.0" y1="189.1" x2="432.0" y2="280.3" stroke="#dadbdb" stroke-width="2.5"/>
<line x1="374.2" y1="233.0" x2="496.3" y2="233.0" stroke="#dadbdb" stroke-width="2.5"/>
<text x="369.2" y="232.6" font-size="8.0" text-anchor="middle" fill="#222" transform="rotate(-90 369.2 232.6)">RULE</text>
<text x="432.6" y="289.6" font-size="8.0" text-anchor="middle" fill="#222">CHOICE</text>
<polyline points="432.0,233.0 426.7,221.7 418.8,212.8 408.8,210.7 397.3,208.0 391.2,212.0 387.3,218.0 384.7,223.3" fill="none" stroke="#c9c9c9" stroke-width="1" stroke-linejoin="round"/>
<circle cx="432.0" cy="233.0" r="2.1" fill="#c9c9c9"/>
<circle cx="426.7" cy="221.7" r="2.1" fill="#c9c9c9"/>
<circle cx="418.8" cy="212.8" r="2.1" fill="#c9c9c9"/>
<circle cx="408.8" cy="210.7" r="2.1" fill="#c9c9c9"/>
<circle cx="397.3" cy="208.0" r="2.1" fill="#c9c9c9"/>
<circle cx="391.2" cy="212.0" r="2.1" fill="#c9c9c9"/>
<circle cx="387.3" cy="218.0" r="2.1" fill="#c9c9c9"/>
<circle cx="384.7" cy="223.3" r="2.1" fill="#c9c9c9"/>
<polyline points="432.0,233.0 424.0,214.6 414.4,204.9 402.5,202.3 393.3,202.8 388.6,208.0 385.2,213.8 382.6,219.9" fill="none" stroke="#8e8e8e" stroke-width="1" stroke-linejoin="round"/>
<circle cx="432.0" cy="233.0" r="2.1" fill="#8e8e8e"/>
<circle cx="424.0" cy="214.6" r="2.1" fill="#8e8e8e"/>
<circle cx="414.4" cy="204.9" r="2.1" fill="#8e8e8e"/>
<circle cx="402.5" cy="202.3" r="2.1" fill="#8e8e8e"/>
<circle cx="393.3" cy="202.8" r="2.1" fill="#8e8e8e"/>
<circle cx="388.6" cy="208.0" r="2.1" fill="#8e8e8e"/>
<circle cx="385.2" cy="213.8" r="2.1" fill="#8e8e8e"/>
<circle cx="382.6" cy="219.9" r="2.1" fill="#8e8e8e"/>
<polyline points="432.0,233.0 423.6,214.6 419.6,204.1 407.0,193.6 396.0,193.1 389.4,195.7 386.0,202.8 383.4,206.7 381.5,210.0 380.7,212.0" fill="none" stroke="#1b1b1b" stroke-width="1" stroke-linejoin="round"/>
<circle cx="432.0" cy="233.0" r="2.1" fill="#1b1b1b"/>
<circle cx="423.6" cy="214.6" r="2.1" fill="#1b1b1b"/>
<circle cx="419.6" cy="204.1" r="2.1" fill="#1b1b1b"/>
<circle cx="407.0" cy="193.6" r="2.1" fill="#1b1b1b"/>
<circle cx="396.0" cy="193.1" r="2.1" fill="#1b1b1b"/>
<circle cx="389.4" cy="195.7" r="2.1" fill="#1b1b1b"/>
<circle cx="386.0" cy="202.8" r="2.1" fill="#1b1b1b"/>
<circle cx="383.4" cy="206.7" r="2.1" fill="#1b1b1b"/>
<circle cx="381.5" cy="210.0" r="2.1" fill="#1b1b1b"/>
<circle cx="380.7" cy="212.0" r="2.1" fill="#1b1b1b"/>
<polyline points="432.0,233.0 437.2,244.3 441.7,248.3 447.2,252.7 453.0,260.6 461.6,258.5 467.4,253.5 472.7,248.8" fill="none" stroke="#a9bbdc" stroke-width="1" stroke-linejoin="round"/>
<circle cx="432.0" cy="233.0" r="2.1" fill="#a9bbdc"/>
<circle cx="437.2" cy="244.3" r="2.1" fill="#a9bbdc"/>
<circle cx="441.7" cy="248.3" r="2.1" fill="#a9bbdc"/>
<circle cx="447.2" cy="252.7" r="2.1" fill="#a9bbdc"/>
<circle cx="453.0" cy="260.6" r="2.1" fill="#a9bbdc"/>
<circle cx="461.6" cy="258.5" r="2.1" fill="#a9bbdc"/>
<circle cx="467.4" cy="253.5" r="2.1" fill="#a9bbdc"/>
<circle cx="472.7" cy="248.8" r="2.1" fill="#a9bbdc"/>
<polyline points="432.0,233.0 439.8,251.4 449.0,259.8 460.3,263.8 471.4,265.9 478.5,259.3 483.2,252.2 485.3,243.5 485.5,246.0" fill="none" stroke="#80c7ea" stroke-width="1" stroke-linejoin="round"/>
<circle cx="432.0" cy="233.0" r="2.1" fill="#80c7ea"/>
<circle cx="439.8" cy="251.4" r="2.1" fill="#80c7ea"/>
<circle cx="449.0" cy="259.8" r="2.1" fill="#80c7ea"/>
<circle cx="460.3" cy="263.8" r="2.1" fill="#80c7ea"/>
<circle cx="471.4" cy="265.9" r="2.1" fill="#80c7ea"/>
<circle cx="478.5" cy="259.3" r="2.1" fill="#80c7ea"/>
<circle cx="483.2" cy="252.2" r="2.1" fill="#80c7ea"/>
<circle cx="485.3" cy="243.5" r="2.1" fill="#80c7ea"/>
<circle cx="485.5" cy="246.0" r="2.1" fill="#80c7ea"/>
<polyline points="432.0,233.0 445.1,261.9 460.9,276.4 476.1,273.0 487.9,263.8 490.5,251.4 489.8,247.0 487.1,247.0" fill="none" stroke="#1f70b4" stroke-width="1" stroke-linejoin="round"/>
<circle cx="432.0" cy="233.0" r="2.1" fill="#1f70b4"/>
<circle cx="445.1" cy="261.9" r="2.1" fill="#1f70b4"/>
<circle cx="460.9" cy="276.4" r="2.1" fill="#1f70b4"/>
<circle cx="476.1" cy="273.0" r="2.1" fill="#1f70b4"/>
<circle cx="487.9" cy="263.8" r="2.1" fill="#1f70b4"/>
<circle cx="490.5" cy="251.4" r="2.1" fill="#1f70b4"/>
<circle cx="489.8" cy="247.0" r="2.1" fill="#1f70b4"/>
<circle cx="487.1" cy="247.0" r="2.1" fill="#1f70b4"/>
<circle cx="432.0" cy="233.0" r="2.8" fill="#f6a623"/>
<circle cx="439.0" cy="191.0" r="2.3" fill="#1f70b4"/>
<circle cx="447.2" cy="191.0" r="2.3" fill="#1b1b1b"/>
<text x="454.8" y="193.8" font-size="8.4" fill="#222">low</text>
<text x="474.0" y="193.8" font-size="8.4" fill="#222">cue sparsity</text>
<circle cx="439.0" cy="200.4" r="2.3" fill="#80c7ea"/>
<circle cx="447.2" cy="200.4" r="2.3" fill="#8e8e8e"/>
<text x="453.0" y="203.2" font-size="8.4" fill="#222">med.</text>
<text x="474.0" y="203.2" font-size="8.4" fill="#222">cue sparsity</text>
<circle cx="439.0" cy="210.2" r="2.3" fill="#a9bbdc"/>
<circle cx="447.2" cy="210.2" r="2.3" fill="#c9c9c9"/>
<text x="453.0" y="213.0" font-size="8.4" fill="#222">high</text>
<text x="474.0" y="213.0" font-size="8.4" fill="#222">cue sparsity</text>
<text x="532.0" y="169.7" font-size="17.5" fill="#111" font-weight="bold">h</text>
<rect x="598.3" y="167.4" width="39.700000000000045" height="11.299999999999983" rx="4.6" fill="#dde4e6"/>
<text x="617.0" y="176.6" font-size="9.8" text-anchor="middle" fill="#222">CAC</text>
<line x1="560.2" y1="193.2" x2="560.2" y2="281.1" stroke="#555" stroke-width="0.8"/>
<line x1="560.2" y1="281.1" x2="683.3" y2="281.1" stroke="#555" stroke-width="0.8"/>
<line x1="557.7" y1="277.0" x2="560.2" y2="277.0" stroke="#555" stroke-width="0.8"/>
<text x="556.2" y="280.1" font-size="8.5" text-anchor="end" fill="#222">0</text>
<line x1="557.7" y1="256.5" x2="560.2" y2="256.5" stroke="#555" stroke-width="0.8"/>
<text x="556.2" y="259.6" font-size="8.5" text-anchor="end" fill="#222">1</text>
<line x1="557.7" y1="236.0" x2="560.2" y2="236.0" stroke="#555" stroke-width="0.8"/>
<text x="556.2" y="239.1" font-size="8.5" text-anchor="end" fill="#222">2</text>
<line x1="557.7" y1="215.5" x2="560.2" y2="215.5" stroke="#555" stroke-width="0.8"/>
<text x="556.2" y="218.6" font-size="8.5" text-anchor="end" fill="#222">3</text>
<text x="545.5" y="238.1" font-size="9.2" text-anchor="middle" fill="#222" transform="rotate(-90 545.5 238.1)">Velocity (arb. units)</text>
<text x="589.9" y="291.6" font-size="9" text-anchor="middle" fill="#222">cueing</text>
<text x="650.6" y="291.6" font-size="9" text-anchor="middle" fill="#222">delay</text>
<polyline points="565.8,258.6 572.4,263.7 578.9,263.7 585.5,265.7 592.0,266.8 598.6,268.8 605.2,269.8 611.7,270.9 618.3,270.9" fill="none" stroke="#a9bbdc" stroke-width="1.15" stroke-linejoin="round"/>
<circle cx="565.8" cy="258.6" r="1.75" fill="#a9bbdc"/>
<circle cx="572.4" cy="263.7" r="1.75" fill="#a9bbdc"/>
<circle cx="578.9" cy="263.7" r="1.75" fill="#a9bbdc"/>
<circle cx="585.5" cy="265.7" r="1.75" fill="#a9bbdc"/>
<circle cx="592.0" cy="266.8" r="1.75" fill="#a9bbdc"/>
<circle cx="598.6" cy="268.8" r="1.75" fill="#a9bbdc"/>
<circle cx="605.2" cy="269.8" r="1.75" fill="#a9bbdc"/>
<circle cx="611.7" cy="270.9" r="1.75" fill="#a9bbdc"/>
<circle cx="618.3" cy="270.9" r="1.75" fill="#a9bbdc"/>
<polyline points="624.8,270.9 631.4,274.9 638.0,276.0 644.6,276.4 651.2,276.6 657.8,276.6 664.4,276.6 671.0,276.6 677.6,276.6" fill="none" stroke="#a9bbdc" stroke-width="1.15" stroke-linejoin="round"/>
<circle cx="624.8" cy="270.9" r="1.75" fill="#a9bbdc"/>
<circle cx="631.4" cy="274.9" r="1.75" fill="#a9bbdc"/>
<circle cx="638.0" cy="276.0" r="1.75" fill="#a9bbdc"/>
<circle cx="644.6" cy="276.4" r="1.75" fill="#a9bbdc"/>
<circle cx="651.2" cy="276.6" r="1.75" fill="#a9bbdc"/>
<circle cx="657.8" cy="276.6" r="1.75" fill="#a9bbdc"/>
<circle cx="664.4" cy="276.6" r="1.75" fill="#a9bbdc"/>
<circle cx="671.0" cy="276.6" r="1.75" fill="#a9bbdc"/>
<circle cx="677.6" cy="276.6" r="1.75" fill="#a9bbdc"/>
<polyline points="565.8,257.5 572.4,249.3 578.9,246.2 585.5,244.2 592.0,253.4 598.6,265.7 605.2,267.8 611.7,269.8 618.3,269.8" fill="none" stroke="#c9c9c9" stroke-width="1.15" stroke-linejoin="round"/>
<circle cx="565.8" cy="257.5" r="1.75" fill="#c9c9c9"/>
<circle cx="572.4" cy="249.3" r="1.75" fill="#c9c9c9"/>
<circle cx="578.9" cy="246.2" r="1.75" fill="#c9c9c9"/>
<circle cx="585.5" cy="244.2" r="1.75" fill="#c9c9c9"/>
<circle cx="592.0" cy="253.4" r="1.75" fill="#c9c9c9"/>
<circle cx="598.6" cy="265.7" r="1.75" fill="#c9c9c9"/>
<circle cx="605.2" cy="267.8" r="1.75" fill="#c9c9c9"/>
<circle cx="611.7" cy="269.8" r="1.75" fill="#c9c9c9"/>
<circle cx="618.3" cy="269.8" r="1.75" fill="#c9c9c9"/>
<polyline points="624.8,270.9 631.4,274.9 638.0,276.0 644.6,276.4 651.2,276.6 657.8,276.6 664.4,276.6 671.0,276.6 677.6,276.6" fill="none" stroke="#c9c9c9" stroke-width="1.15" stroke-linejoin="round"/>
<circle cx="624.8" cy="270.9" r="1.75" fill="#c9c9c9"/>
<circle cx="631.4" cy="274.9" r="1.75" fill="#c9c9c9"/>
<circle cx="638.0" cy="276.0" r="1.75" fill="#c9c9c9"/>
<circle cx="644.6" cy="276.4" r="1.75" fill="#c9c9c9"/>
<circle cx="651.2" cy="276.6" r="1.75" fill="#c9c9c9"/>
<circle cx="657.8" cy="276.6" r="1.75" fill="#c9c9c9"/>
<circle cx="664.4" cy="276.6" r="1.75" fill="#c9c9c9"/>
<circle cx="671.0" cy="276.6" r="1.75" fill="#c9c9c9"/>
<circle cx="677.6" cy="276.6" r="1.75" fill="#c9c9c9"/>
<polyline points="565.8,240.1 572.4,244.2 578.9,241.1 585.5,242.2 592.0,249.3 598.6,258.6 605.2,264.7 611.7,267.8 618.3,268.8" fill="none" stroke="#80c7ea" stroke-width="1.15" stroke-linejoin="round"/>
<circle cx="565.8" cy="240.1" r="1.75" fill="#80c7ea"/>
<circle cx="572.4" cy="244.2" r="1.75" fill="#80c7ea"/>
<circle cx="578.9" cy="241.1" r="1.75" fill="#80c7ea"/>
<circle cx="585.5" cy="242.2" r="1.75" fill="#80c7ea"/>
<circle cx="592.0" cy="249.3" r="1.75" fill="#80c7ea"/>
<circle cx="598.6" cy="258.6" r="1.75" fill="#80c7ea"/>
<circle cx="605.2" cy="264.7" r="1.75" fill="#80c7ea"/>
<circle cx="611.7" cy="267.8" r="1.75" fill="#80c7ea"/>
<circle cx="618.3" cy="268.8" r="1.75" fill="#80c7ea"/>
<polyline points="624.8,267.8 631.4,274.9 638.0,276.0 644.6,276.4 651.2,276.6 657.8,276.6 664.4,276.6 671.0,276.6 677.6,276.6" fill="none" stroke="#80c7ea" stroke-width="1.15" stroke-linejoin="round"/>
<circle cx="624.8" cy="267.8" r="1.75" fill="#80c7ea"/>
<circle cx="631.4" cy="274.9" r="1.75" fill="#80c7ea"/>
<circle cx="638.0" cy="276.0" r="1.75" fill="#80c7ea"/>
<circle cx="644.6" cy="276.4" r="1.75" fill="#80c7ea"/>
<circle cx="651.2" cy="276.6" r="1.75" fill="#80c7ea"/>
<circle cx="657.8" cy="276.6" r="1.75" fill="#80c7ea"/>
<circle cx="664.4" cy="276.6" r="1.75" fill="#80c7ea"/>
<circle cx="671.0" cy="276.6" r="1.75" fill="#80c7ea"/>
<circle cx="677.6" cy="276.6" r="1.75" fill="#80c7ea"/>
<polyline points="565.8,239.1 572.4,237.0 578.9,238.1 585.5,240.1 592.0,258.6 598.6,266.8 605.2,268.8 611.7,269.8 618.3,270.9" fill="none" stroke="#8e8e8e" stroke-width="1.15" stroke-linejoin="round"/>
<circle cx="565.8" cy="239.1" r="1.75" fill="#8e8e8e"/>
<circle cx="572.4" cy="237.0" r="1.75" fill="#8e8e8e"/>
<circle cx="578.9" cy="238.1" r="1.75" fill="#8e8e8e"/>
<circle cx="585.5" cy="240.1" r="1.75" fill="#8e8e8e"/>
<circle cx="592.0" cy="258.6" r="1.75" fill="#8e8e8e"/>
<circle cx="598.6" cy="266.8" r="1.75" fill="#8e8e8e"/>
<circle cx="605.2" cy="268.8" r="1.75" fill="#8e8e8e"/>
<circle cx="611.7" cy="269.8" r="1.75" fill="#8e8e8e"/>
<circle cx="618.3" cy="270.9" r="1.75" fill="#8e8e8e"/>
<polyline points="624.8,264.7 631.4,274.9 638.0,276.0 644.6,276.4 651.2,276.6 657.8,276.6 664.4,276.6 671.0,276.6 677.6,276.6" fill="none" stroke="#8e8e8e" stroke-width="1.15" stroke-linejoin="round"/>
<circle cx="624.8" cy="264.7" r="1.75" fill="#8e8e8e"/>
<circle cx="631.4" cy="274.9" r="1.75" fill="#8e8e8e"/>
<circle cx="638.0" cy="276.0" r="1.75" fill="#8e8e8e"/>
<circle cx="644.6" cy="276.4" r="1.75" fill="#8e8e8e"/>
<circle cx="651.2" cy="276.6" r="1.75" fill="#8e8e8e"/>
<circle cx="657.8" cy="276.6" r="1.75" fill="#8e8e8e"/>
<circle cx="664.4" cy="276.6" r="1.75" fill="#8e8e8e"/>
<circle cx="671.0" cy="276.6" r="1.75" fill="#8e8e8e"/>
<circle cx="677.6" cy="276.6" r="1.75" fill="#8e8e8e"/>
<polyline points="565.8,198.1 572.4,205.2 578.9,210.4 585.5,228.8 592.0,264.7 598.6,270.9 605.2,272.9 611.7,273.9 618.3,273.9" fill="none" stroke="#1f70b4" stroke-width="1.15" stroke-linejoin="round"/>
<circle cx="565.8" cy="198.1" r="1.75" fill="#1f70b4"/>
<circle cx="572.4" cy="205.2" r="1.75" fill="#1f70b4"/>
<circle cx="578.9" cy="210.4" r="1.75" fill="#1f70b4"/>
<circle cx="585.5" cy="228.8" r="1.75" fill="#1f70b4"/>
<circle cx="592.0" cy="264.7" r="1.75" fill="#1f70b4"/>
<circle cx="598.6" cy="270.9" r="1.75" fill="#1f70b4"/>
<circle cx="605.2" cy="272.9" r="1.75" fill="#1f70b4"/>
<circle cx="611.7" cy="273.9" r="1.75" fill="#1f70b4"/>
<circle cx="618.3" cy="273.9" r="1.75" fill="#1f70b4"/>
<polyline points="624.8,270.9 631.4,274.9 638.0,276.0 644.6,276.4 651.2,276.6 657.8,276.6 664.4,276.6 671.0,276.6 677.6,276.6" fill="none" stroke="#1f70b4" stroke-width="1.15" stroke-linejoin="round"/>
<circle cx="624.8" cy="270.9" r="1.75" fill="#1f70b4"/>
<circle cx="631.4" cy="274.9" r="1.75" fill="#1f70b4"/>
<circle cx="638.0" cy="276.0" r="1.75" fill="#1f70b4"/>
<circle cx="644.6" cy="276.4" r="1.75" fill="#1f70b4"/>
<circle cx="651.2" cy="276.6" r="1.75" fill="#1f70b4"/>
<circle cx="657.8" cy="276.6" r="1.75" fill="#1f70b4"/>
<circle cx="664.4" cy="276.6" r="1.75" fill="#1f70b4"/>
<circle cx="671.0" cy="276.6" r="1.75" fill="#1f70b4"/>
<circle cx="677.6" cy="276.6" r="1.75" fill="#1f70b4"/>
<polyline points="565.8,200.1 572.4,225.8 578.9,229.8 585.5,253.4 592.0,269.8 598.6,269.8 605.2,271.9 611.7,273.9 618.3,273.9" fill="none" stroke="#1b1b1b" stroke-width="1.15" stroke-linejoin="round"/>
<circle cx="565.8" cy="200.1" r="1.75" fill="#1b1b1b"/>
<circle cx="572.4" cy="225.8" r="1.75" fill="#1b1b1b"/>
<circle cx="578.9" cy="229.8" r="1.75" fill="#1b1b1b"/>
<circle cx="585.5" cy="253.4" r="1.75" fill="#1b1b1b"/>
<circle cx="592.0" cy="269.8" r="1.75" fill="#1b1b1b"/>
<circle cx="598.6" cy="269.8" r="1.75" fill="#1b1b1b"/>
<circle cx="605.2" cy="271.9" r="1.75" fill="#1b1b1b"/>
<circle cx="611.7" cy="273.9" r="1.75" fill="#1b1b1b"/>
<circle cx="618.3" cy="273.9" r="1.75" fill="#1b1b1b"/>
<polyline points="624.8,253.4 631.4,272.9 638.0,274.9 644.6,276.0 651.2,276.6 657.8,276.6 664.4,276.6 671.0,276.6 677.6,276.6" fill="none" stroke="#1b1b1b" stroke-width="1.15" stroke-linejoin="round"/>
<circle cx="624.8" cy="253.4" r="1.75" fill="#1b1b1b"/>
<circle cx="631.4" cy="272.9" r="1.75" fill="#1b1b1b"/>
<circle cx="638.0" cy="274.9" r="1.75" fill="#1b1b1b"/>
<circle cx="644.6" cy="276.0" r="1.75" fill="#1b1b1b"/>
<circle cx="651.2" cy="276.6" r="1.75" fill="#1b1b1b"/>
<circle cx="657.8" cy="276.6" r="1.75" fill="#1b1b1b"/>
<circle cx="664.4" cy="276.6" r="1.75" fill="#1b1b1b"/>
<circle cx="671.0" cy="276.6" r="1.75" fill="#1b1b1b"/>
<circle cx="677.6" cy="276.6" r="1.75" fill="#1b1b1b"/>
<text x="1.5" y="336.5" font-size="17.5" fill="#111" font-weight="bold">i</text>
<line x1="117.6" y1="344.5" x2="44.9" y2="382.2" stroke="#333" stroke-width="0.7"/>
<line x1="117.6" y1="344.5" x2="198.8" y2="377.8" stroke="#333" stroke-width="0.7"/>
<line x1="44.9" y1="382.2" x2="44.9" y2="446.3" stroke="#333" stroke-width="0.7"/>
<line x1="198.8" y1="377.8" x2="198.8" y2="443.5" stroke="#333" stroke-width="0.7"/>
<line x1="117.6" y1="344.5" x2="117.6" y2="409.0" stroke="#333" stroke-width="0.7"/>
<line x1="117.6" y1="409.0" x2="44.9" y2="446.3" stroke="#333" stroke-width="0.7"/>
<line x1="117.6" y1="409.0" x2="199.5" y2="444.0" stroke="#333" stroke-width="0.7"/>
<line x1="44.9" y1="446.3" x2="125.2" y2="482.2" stroke="#333" stroke-width="0.7"/>
<line x1="125.2" y1="482.2" x2="199.5" y2="444.0" stroke="#333" stroke-width="0.7"/>
<line x1="43.2" y1="404.3" x2="44.9" y2="404.3" stroke="#333" stroke-width="0.7"/>
<line x1="43.2" y1="425.3" x2="44.9" y2="425.3" stroke="#333" stroke-width="0.7"/>
<line x1="162.6" y1="463.4" x2="161.2" y2="461.0" stroke="#333" stroke-width="0.7"/>
<line x1="84.0" y1="464.0" x2="86.0" y2="462.0" stroke="#333" stroke-width="0.7"/>
<text x="21.4" y="421.0" font-size="8.8" fill="#222">PC<tspan font-size="6.6" dy="0.4">3</tspan></text>
<text x="66.6" y="479.2" font-size="8.8" fill="#222">PC<tspan font-size="6.6" dy="0.4">1</tspan></text>
<text x="171.9" y="472.0" font-size="8.8" fill="#222">PC<tspan font-size="6.6" dy="0.4">2</tspan></text>
<defs><linearGradient id="parula" x1="0" y1="0" x2="0" y2="1"><stop offset="0" stop-color="#f9fb0e"/><stop offset="0.15" stop-color="#f5c62c"/><stop offset="0.3" stop-color="#c7be2c"/><stop offset="0.45" stop-color="#5fbf6b"/><stop offset="0.6" stop-color="#17b0c0"/><stop offset="0.75" stop-color="#1a8fe0"/><stop offset="0.88" stop-color="#3266d8"/><stop offset="1" stop-color="#3a2f96"/></linearGradient></defs>
<rect x="207.4" y="391.2" width="7.2" height="47.6" fill="url(#parula)"/>
<text x="205.5" y="387.6" font-size="7" fill="#222">low</text>
<text x="205.5" y="443.9" font-size="7" fill="#222">high</text>
<line x1="135.3" y1="372.2" x2="135.3" y2="394.4" stroke="#444" stroke-width="0.7"/>
<line x1="135.3" y1="394.4" x2="177.2" y2="395.5" stroke="#444" stroke-width="0.7"/>
<line x1="179.8" y1="377.3" x2="177.2" y2="395.5" stroke="#444" stroke-width="0.7"/>
<line x1="135.3" y1="372.3" x2="136.5" y2="372.3" stroke="#444" stroke-width="0.6"/>
<text x="133.3" y="374.3" font-size="5.6" text-anchor="end" fill="#222">1</text>
<line x1="135.3" y1="379.3" x2="136.5" y2="379.3" stroke="#444" stroke-width="0.6"/>
<text x="133.3" y="381.3" font-size="5.6" text-anchor="end" fill="#222">0.5</text>
<line x1="135.3" y1="386.8" x2="136.5" y2="386.8" stroke="#444" stroke-width="0.6"/>
<text x="133.3" y="388.8" font-size="5.6" text-anchor="end" fill="#222">0</text>
<line x1="135.3" y1="394.4" x2="136.5" y2="394.4" stroke="#444" stroke-width="0.6"/>
<text x="133.3" y="396.4" font-size="5.6" text-anchor="end" fill="#222">-0.5</text>
<text x="135.8" y="402.3" font-size="5.6" text-anchor="middle" fill="#222">-2</text>
<text x="155.3" y="402.3" font-size="5.6" text-anchor="middle" fill="#222">0</text>
<text x="175.7" y="402.3" font-size="5.6" text-anchor="middle" fill="#222">2</text>
<line x1="146.0" y1="394.8" x2="146.0" y2="393.7" stroke="#444" stroke-width="0.6"/>
<line x1="156.3" y1="394.8" x2="156.3" y2="393.7" stroke="#444" stroke-width="0.6"/>
<line x1="166.5" y1="394.8" x2="166.5" y2="393.7" stroke="#444" stroke-width="0.6"/>
<text x="181.6" y="380.3" font-size="5.6" fill="#222">1</text>
<text x="181.6" y="389.0" font-size="5.6" fill="#222">0</text>
<text x="179.6" y="396.8" font-size="5.6" fill="#222">-1</text>
<line x1="137.8" y1="376.3" x2="140.4" y2="373.1" stroke="#3d4fb5" stroke-width="1.5" stroke-linecap="round"/>
<line x1="139.5" y1="374" x2="140.5" y2="372.9" stroke="#25b0d0" stroke-width="1" stroke-linecap="round"/>
<path d="M156.4,378.5 h2.4 M157.6,377.3 v2.4" stroke="#e42229" stroke-width="0.9"/>
<line x1="172.6" y1="380.3" x2="175.2" y2="376.2" stroke="#e8b82a" stroke-width="1.7" stroke-linecap="round"/>
<line x1="173.8" y1="378.2" x2="175.2" y2="376.2" stroke="#7cc04a" stroke-width="1.1" stroke-linecap="round"/>
<circle cx="176.0" cy="374.7" r="0.9" fill="#4050b8"/>
<path d="M57.2,397.4 C65,420 80,432 96.6,430.7 C108,429 115,426 121.5,424.1 C135,413 172,403 187.1,427.4" fill="none" stroke="#3c3fa8" stroke-width="0.9"/>
<path d="M79.9,398.3 C88,410 98,418 110,421 C130,426 150,428 169.6,433.6" fill="none" stroke="#1fb5ee" stroke-width="0.9"/>
<path d="M117.6,402.2 C115,410 116,418 121.5,424.1 C127,428 131,430 131.9,436.2" fill="none" stroke="#e7e23a" stroke-width="0.9"/>
<path d="M51.5,396 C55,395 60,393 64,392.3 C68,392 70,393 72,393.6 C75,395 77,396.5 80,397 C84,397.3 88,397 92,397 C96,397.5 98,401 101,402.5 C104,403.3 109,403 113,403 C115.5,402.8 117.5,402.6 119,402.4" fill="none" stroke="#e8262a" stroke-width="1.7"/>
<path d="M132,436 C138,433.5 146,432.3 152.6,432.1 M151,435.5 C154,436.8 157,437.6 161,437.7 C165,437.5 169,437 172,437.3 C174,439 175.5,441 177.5,441.2 C180,440.7 182,439.3 183.5,437.8 C185.5,435.7 187.5,433.5 188.9,431.8" fill="none" stroke="#2c4fb5" stroke-width="1.6"/>
<path d="M49.3,396.1 h4.4 M51.5,393.9 v4.4 M49.9,394.5 l3.3,3.3 M53.1,394.5 l-3.3,3.3" stroke="#3d3a9e" stroke-width="0.9"/>
<path d="M53.3,395.5 h4.4 M55.5,393.3 v4.4 M53.9,393.9 l3.3,3.3 M57.1,393.9 l-3.3,3.3" stroke="#3d3a9e" stroke-width="0.9"/>
<path d="M55.3,397.0 h4.4 M57.5,394.8 v4.4 M55.9,395.4 l3.3,3.3 M59.1,395.4 l-3.3,3.3" stroke="#3f40a8" stroke-width="0.9"/>
<path d="M56.3,394.0 h4.4 M58.5,391.8 v4.4 M56.9,392.4 l3.3,3.3 M60.1,392.4 l-3.3,3.3" stroke="#3f40a8" stroke-width="0.9"/>
<path d="M58.8,393.2 h4.4 M61.0,391.0 v4.4 M59.4,391.6 l3.3,3.3 M62.6,391.6 l-3.3,3.3" stroke="#4048b0" stroke-width="0.9"/>
<path d="M61.3,392.5 h4.4 M63.5,390.3 v4.4 M61.9,390.9 l3.3,3.3 M65.2,390.9 l-3.3,3.3" stroke="#4150b8" stroke-width="0.9"/>
<path d="M68.3,394.0 h4.4 M70.5,391.8 v4.4 M68.8,392.4 l3.3,3.3 M72.2,392.4 l-3.3,3.3" stroke="#2a8de0" stroke-width="0.9"/>
<path d="M70.3,395.0 h4.4 M72.5,392.8 v4.4 M70.8,393.4 l3.3,3.3 M74.2,393.4 l-3.3,3.3" stroke="#20a0d8" stroke-width="0.9"/>
<path d="M72.8,396.5 h4.4 M75.0,394.3 v4.4 M73.3,394.9 l3.3,3.3 M76.7,394.9 l-3.3,3.3" stroke="#20b0b8" stroke-width="0.9"/>
<path d="M74.8,396.8 h4.4 M77.0,394.6 v4.4 M75.3,395.2 l3.3,3.3 M78.7,395.2 l-3.3,3.3" stroke="#28b8a8" stroke-width="0.9"/>
<path d="M76.8,396.5 h4.4 M79.0,394.3 v4.4 M77.3,394.9 l3.3,3.3 M80.7,394.9 l-3.3,3.3" stroke="#30b8a0" stroke-width="0.9"/>
<path d="M83.3,397.0 h4.4 M85.5,394.8 v4.4 M83.8,395.4 l3.3,3.3 M87.2,395.4 l-3.3,3.3" stroke="#5dbd6a" stroke-width="0.9"/>
<path d="M85.8,397.5 h4.4 M88.0,395.3 v4.4 M86.3,395.9 l3.3,3.3 M89.7,395.9 l-3.3,3.3" stroke="#78c050" stroke-width="0.9"/>
<path d="M87.8,396.8 h4.4 M90.0,394.6 v4.4 M88.3,395.2 l3.3,3.3 M91.7,395.2 l-3.3,3.3" stroke="#5ab868" stroke-width="0.9"/>
<path d="M90.3,396.6 h4.4 M92.5,394.4 v4.4 M90.8,395.0 l3.3,3.3 M94.2,395.0 l-3.3,3.3" stroke="#80c048" stroke-width="0.9"/>
<path d="M97.3,402.5 h4.4 M99.5,400.3 v4.4 M97.8,400.9 l3.3,3.3 M101.2,400.9 l-3.3,3.3" stroke="#e8b828" stroke-width="0.9"/>
<path d="M99.8,403.2 h4.4 M102.0,401.0 v4.4 M100.3,401.6 l3.3,3.3 M103.7,401.6 l-3.3,3.3" stroke="#eec030" stroke-width="0.9"/>
<path d="M102.3,403.0 h4.4 M104.5,400.8 v4.4 M102.8,401.4 l3.3,3.3 M106.2,401.4 l-3.3,3.3" stroke="#e8b030" stroke-width="0.9"/>
<path d="M109.3,402.8 h4.4 M111.5,400.6 v4.4 M109.8,401.2 l3.3,3.3 M113.2,401.2 l-3.3,3.3" stroke="#f0c028" stroke-width="0.9"/>
<path d="M111.8,402.6 h4.4 M114.0,400.4 v4.4 M112.3,401.0 l3.3,3.3 M115.7,401.0 l-3.3,3.3" stroke="#f2c428" stroke-width="0.9"/>
<path d="M115.3,402.5 h4.4 M117.5,400.3 v4.4 M115.8,400.9 l3.3,3.3 M119.2,400.9 l-3.3,3.3" stroke="#f5d630" stroke-width="0.9"/>
<path d="M117.3,401.8 h4.4 M119.5,399.6 v4.4 M117.8,400.2 l3.3,3.3 M121.2,400.2 l-3.3,3.3" stroke="#f8e030" stroke-width="0.9"/>
<path d="M116.3,404.0 h4.4 M118.5,401.8 v4.4 M116.8,402.4 l3.3,3.3 M120.2,402.4 l-3.3,3.3" stroke="#f5d830" stroke-width="0.9"/>
<path d="M128.8,436.3 h4.4 M131.0,434.1 v4.4 M129.3,434.7 l3.3,3.3 M132.7,434.7 l-3.3,3.3" stroke="#f0d030" stroke-width="0.9"/>
<path d="M131.3,435.5 h4.4 M133.5,433.3 v4.4 M131.8,433.9 l3.3,3.3 M135.2,433.9 l-3.3,3.3" stroke="#f3d832" stroke-width="0.9"/>
<path d="M130.3,437.5 h4.4 M132.5,435.3 v4.4 M130.8,435.9 l3.3,3.3 M134.2,435.9 l-3.3,3.3" stroke="#eccf30" stroke-width="0.9"/>
<path d="M146.3,434.5 h4.4 M148.5,432.3 v4.4 M146.8,432.9 l3.3,3.3 M150.2,432.9 l-3.3,3.3" stroke="#e0c030" stroke-width="0.9"/>
<path d="M148.8,433.0 h4.4 M151.0,430.8 v4.4 M149.3,431.4 l3.3,3.3 M152.7,431.4 l-3.3,3.3" stroke="#e8b830" stroke-width="0.9"/>
<path d="M150.8,434.8 h4.4 M153.0,432.6 v4.4 M151.3,433.2 l3.3,3.3 M154.7,433.2 l-3.3,3.3" stroke="#d8c040" stroke-width="0.9"/>
<path d="M149.8,431.5 h4.4 M152.0,429.3 v4.4 M150.3,429.9 l3.3,3.3 M153.7,429.9 l-3.3,3.3" stroke="#f0b828" stroke-width="0.9"/>
<path d="M157.3,437.8 h4.4 M159.5,435.6 v4.4 M157.8,436.2 l3.3,3.3 M161.2,436.2 l-3.3,3.3" stroke="#5dbd6a" stroke-width="0.9"/>
<path d="M159.8,437.4 h4.4 M162.0,435.2 v4.4 M160.3,435.8 l3.3,3.3 M163.7,435.8 l-3.3,3.3" stroke="#70c060" stroke-width="0.9"/>
<path d="M162.3,437.0 h4.4 M164.5,434.8 v4.4 M162.8,435.4 l3.3,3.3 M166.2,435.4 l-3.3,3.3" stroke="#50b878" stroke-width="0.9"/>
<path d="M167.8,436.0 h4.4 M170.0,433.8 v4.4 M168.3,434.4 l3.3,3.3 M171.7,434.4 l-3.3,3.3" stroke="#20b0c0" stroke-width="0.9"/>
<path d="M170.3,437.0 h4.4 M172.5,434.8 v4.4 M170.8,435.4 l3.3,3.3 M174.2,435.4 l-3.3,3.3" stroke="#1aa8d0" stroke-width="0.9"/>
<path d="M168.8,439.5 h4.4 M171.0,437.3 v4.4 M169.3,437.9 l3.3,3.3 M172.7,437.9 l-3.3,3.3" stroke="#20a0d8" stroke-width="0.9"/>
<path d="M171.8,435.5 h4.4 M174.0,433.3 v4.4 M172.3,433.9 l3.3,3.3 M175.7,433.9 l-3.3,3.3" stroke="#28b0b8" stroke-width="0.9"/>
<path d="M173.3,440.8 h4.4 M175.5,438.6 v4.4 M173.8,439.2 l3.3,3.3 M177.2,439.2 l-3.3,3.3" stroke="#2a8ae0" stroke-width="0.9"/>
<path d="M175.8,441.2 h4.4 M178.0,439.0 v4.4 M176.3,439.6 l3.3,3.3 M179.7,439.6 l-3.3,3.3" stroke="#2f78e0" stroke-width="0.9"/>
<path d="M178.3,440.0 h4.4 M180.5,437.8 v4.4 M178.8,438.4 l3.3,3.3 M182.2,438.4 l-3.3,3.3" stroke="#3560d0" stroke-width="0.9"/>
<path d="M180.8,438.5 h4.4 M183.0,436.3 v4.4 M181.3,436.9 l3.3,3.3 M184.7,436.9 l-3.3,3.3" stroke="#3a48c0" stroke-width="0.9"/>
<path d="M183.3,436.0 h4.4 M185.5,433.8 v4.4 M183.8,434.4 l3.3,3.3 M187.2,434.4 l-3.3,3.3" stroke="#3c3cb0" stroke-width="0.9"/>
<path d="M186.3,432.0 h4.4 M188.5,429.8 v4.4 M186.8,430.4 l3.3,3.3 M190.2,430.4 l-3.3,3.3" stroke="#3c3aa8" stroke-width="0.9"/>
<circle cx="121.5" cy="424.1" r="2.1" fill="#e8202a"/>
<path d="M185,424 l2.7,3.8 l-4.5,0.4 z" fill="#3c3fa8"/>
<path d="M167,431 l3.5,2.8 l-4.5,1 z" fill="#1fb5ee"/>
<path d="M79.9,398.3 l0.6,4.3 l2.6,-2.2 z" fill="#1fb5ee"/>
<text x="262.6" y="338.6" font-size="17.5" fill="#111" font-weight="bold">j</text>
<line x1="296.6" y1="349.4" x2="296.6" y2="459.2" stroke="#555" stroke-width="0.8"/>
<line x1="296.6" y1="459.2" x2="405.7" y2="459.2" stroke="#555" stroke-width="0.8"/>
<line x1="293.7" y1="459.2" x2="296.6" y2="459.2" stroke="#555" stroke-width="0.8"/>
<text x="292.3" y="463.0" font-size="10.3" text-anchor="end" fill="#222">0.3</text>
<line x1="293.7" y1="429.8" x2="296.6" y2="429.8" stroke="#555" stroke-width="0.8"/>
<text x="292.3" y="433.6" font-size="10.3" text-anchor="end" fill="#222">0.5</text>
<line x1="293.7" y1="400.4" x2="296.6" y2="400.4" stroke="#555" stroke-width="0.8"/>
<text x="292.3" y="404.2" font-size="10.3" text-anchor="end" fill="#222">0.7</text>
<line x1="293.7" y1="371.0" x2="296.6" y2="371.0" stroke="#555" stroke-width="0.8"/>
<text x="292.3" y="374.8" font-size="10.3" text-anchor="end" fill="#222">0.9</text>
<line x1="301.1" y1="459.2" x2="301.1" y2="461.8" stroke="#555" stroke-width="0.8"/>
<text x="301.1" y="470.7" font-size="10.3" text-anchor="middle" fill="#222">0.5</text>
<line x1="321.0" y1="459.2" x2="321.0" y2="461.8" stroke="#555" stroke-width="0.8"/>
<text x="321.0" y="470.7" font-size="10.3" text-anchor="middle" fill="#222">0.6</text>
<line x1="340.9" y1="459.2" x2="340.9" y2="461.8" stroke="#555" stroke-width="0.8"/>
<text x="340.9" y="470.7" font-size="10.3" text-anchor="middle" fill="#222">0.7</text>
<line x1="360.8" y1="459.2" x2="360.8" y2="461.8" stroke="#555" stroke-width="0.8"/>
<text x="360.8" y="470.7" font-size="10.3" text-anchor="middle" fill="#222">0.8</text>
<line x1="380.7" y1="459.2" x2="380.7" y2="461.8" stroke="#555" stroke-width="0.8"/>
<text x="380.7" y="470.7" font-size="10.3" text-anchor="middle" fill="#222">0.9</text>
<line x1="400.6" y1="459.2" x2="400.6" y2="461.8" stroke="#555" stroke-width="0.8"/>
<text x="400.6" y="470.7" font-size="10.3" text-anchor="middle" fill="#222">1.0</text>
<text x="349.4" y="482.4" font-size="10.3" text-anchor="middle" fill="#222">LP/HP cue congruence</text>
<text x="272.3" y="414.0" font-size="10.3" text-anchor="middle" fill="#222" transform="rotate(-90 272.3 414)">Frac. correct target choice</text>
<polyline points="301.1,448.1 301.9,447.6 302.8,447.0 303.6,446.4 304.4,445.6 305.2,444.7 306.1,443.7 306.9,442.6 307.7,441.3 308.6,439.8 309.4,438.1 310.2,436.2 311.1,434.1 311.9,431.8 312.7,429.2 313.5,426.4 314.4,423.4 315.2,420.2 316.0,416.9 316.9,413.3 317.7,409.7 318.5,406.0 319.3,402.2 320.2,398.5 321.0,394.8 321.8,391.2 322.7,387.8 323.5,384.6 324.3,381.6 325.1,378.7 326.0,376.1 326.8,373.8 327.6,371.6 328.5,369.7 329.3,368.0 330.1,366.4 331.0,365.1 331.8,363.9 332.6,362.9 333.4,362.0 334.3,361.2 335.1,360.5 335.9,359.9 336.8,359.4 337.6,359.0 338.4,358.6 339.2,358.2 340.1,358.0 340.9,357.7 341.7,357.5 342.6,357.3 343.4,357.2 344.2,357.1 345.0,357.0 345.9,356.9 346.7,356.8 347.5,356.7 348.4,356.6 349.2,356.6 350.0,356.6 350.9,356.5 351.7,356.5 352.5,356.5 353.3,356.4 354.2,356.4 355.0,356.4 355.8,356.4 356.7,356.4 357.5,356.4 358.3,356.4 359.1,356.3 360.0,356.3 360.8,356.3 361.6,356.3 362.5,356.3 363.3,356.3 364.1,356.3 364.9,356.3 365.8,356.3 366.6,356.3 367.4,356.3 368.3,356.3 369.1,356.3 369.9,356.3 370.8,356.3 371.6,356.3 372.4,356.3 373.2,356.3 374.1,356.3 374.9,356.3 375.7,356.3 376.6,356.3 377.4,356.3 378.2,356.3 379.0,356.3 379.9,356.3 380.7,356.3 381.5,356.3 382.4,356.3 383.2,356.3 384.0,356.3 384.8,356.3 385.7,356.3 386.5,356.3 387.3,356.3 388.2,356.3 389.0,356.3 389.8,356.3 390.7,356.3 391.5,356.3 392.3,356.3 393.1,356.3 394.0,356.3 394.8,356.3 395.6,356.3 396.5,356.3 397.3,356.3 398.1,356.3 398.9,356.3 399.8,356.3 400.6,356.3" fill="none" stroke="#222" stroke-width="1.1" stroke-linejoin="round"/>
<polyline points="301.1,444.4 301.9,444.4 302.8,444.4 303.6,444.4 304.4,444.4 305.2,444.4 306.1,444.3 306.9,444.3 307.7,444.3 308.6,444.2 309.4,444.2 310.2,444.1 311.1,444.0 311.9,443.9 312.7,443.8 313.5,443.6 314.4,443.5 315.2,443.2 316.0,443.0 316.9,442.7 317.7,442.3 318.5,441.9 319.3,441.4 320.2,440.7 321.0,440.0 321.8,439.1 322.7,438.1 323.5,436.9 324.3,435.5 325.1,433.9 326.0,432.0 326.8,429.8 327.6,427.4 328.5,424.7 329.3,421.6 330.1,418.3 331.0,414.7 331.8,410.9 332.6,407.0 333.4,402.9 334.3,398.7 335.1,394.6 335.9,390.6 336.8,386.8 337.6,383.2 338.4,379.8 339.2,376.7 340.1,373.9 340.9,371.4 341.7,369.2 342.6,367.3 343.4,365.6 344.2,364.2 345.0,362.9 345.9,361.9 346.7,361.0 347.5,360.2 348.4,359.6 349.2,359.0 350.0,358.6 350.9,358.2 351.7,357.9 352.5,357.6 353.3,357.4 354.2,357.2 355.0,357.0 355.8,356.9 356.7,356.8 357.5,356.7 358.3,356.7 359.1,356.6 360.0,356.5 360.8,356.5 361.6,356.5 362.5,356.4 363.3,356.4 364.1,356.4 364.9,356.4 365.8,356.4 366.6,356.4 367.4,356.3 368.3,356.3 369.1,356.3 369.9,356.3 370.8,356.3 371.6,356.3 372.4,356.3 373.2,356.3 374.1,356.3 374.9,356.3 375.7,356.3 376.6,356.3 377.4,356.3 378.2,356.3 379.0,356.3 379.9,356.3 380.7,356.3 381.5,356.3 382.4,356.3 383.2,356.3 384.0,356.3 384.8,356.3 385.7,356.3 386.5,356.3 387.3,356.3 388.2,356.3 389.0,356.3 389.8,356.3 390.7,356.3 391.5,356.3 392.3,356.3 393.1,356.3 394.0,356.3 394.8,356.3 395.6,356.3 396.5,356.3 397.3,356.3 398.1,356.3 398.9,356.3 399.8,356.3 400.6,356.3" fill="none" stroke="#f5a21e" stroke-width="1.1" stroke-linejoin="round"/>
<polyline points="301.1,445.2 301.9,445.2 302.8,445.2 303.6,445.2 304.4,445.2 305.2,445.2 306.1,445.2 306.9,445.2 307.7,445.2 308.6,445.2 309.4,445.2 310.2,445.2 311.1,445.2 311.9,445.2 312.7,445.2 313.5,445.2 314.4,445.2 315.2,445.2 316.0,445.2 316.9,445.2 317.7,445.1 318.5,445.1 319.3,445.1 320.2,445.1 321.0,445.1 321.8,445.0 322.7,445.0 323.5,444.9 324.3,444.9 325.1,444.8 326.0,444.7 326.8,444.7 327.6,444.6 328.5,444.4 329.3,444.3 330.1,444.1 331.0,443.9 331.8,443.7 332.6,443.4 333.4,443.1 334.3,442.7 335.1,442.3 335.9,441.8 336.8,441.1 337.6,440.4 338.4,439.6 339.2,438.7 340.1,437.6 340.9,436.4 341.7,434.9 342.6,433.3 343.4,431.5 344.2,429.4 345.0,427.2 345.9,424.6 346.7,421.9 347.5,418.9 348.4,415.7 349.2,412.4 350.0,408.8 350.9,405.2 351.7,401.5 352.5,397.8 353.3,394.1 354.2,390.6 355.0,387.1 355.8,383.9 356.7,380.8 357.5,378.0 358.3,375.3 359.1,373.0 360.0,370.8 360.8,368.9 361.6,367.2 362.5,365.7 363.3,364.4 364.1,363.3 364.9,362.3 365.8,361.4 366.6,360.7 367.4,360.0 368.3,359.5 369.1,359.0 369.9,358.6 370.8,358.2 371.6,358.0 372.4,357.7 373.2,357.5 374.1,357.3 374.9,357.2 375.7,357.0 376.6,356.9 377.4,356.8 378.2,356.7 379.0,356.7 379.9,356.6 380.7,356.6 381.5,356.5 382.4,356.5 383.2,356.5 384.0,356.4 384.8,356.4 385.7,356.4 386.5,356.4 387.3,356.4 388.2,356.4 389.0,356.4 389.8,356.3 390.7,356.3 391.5,356.3 392.3,356.3 393.1,356.3 394.0,356.3 394.8,356.3 395.6,356.3 396.5,356.3 397.3,356.3 398.1,356.3 398.9,356.3 399.8,356.3 400.6,356.3" fill="none" stroke="#3bb346" stroke-width="1.1" stroke-linejoin="round"/>
<line x1="356.0" y1="426.2" x2="369.6" y2="426.2" stroke="#222" stroke-width="1.1"/>
<text x="374.2" y="428.7" font-size="7.1" fill="#333">PFC-MD</text>
<line x1="356.0" y1="434.4" x2="369.6" y2="434.4" stroke="#f5a21e" stroke-width="1.1"/>
<text x="374.2" y="436.9" font-size="7.1" fill="#333">PFC-alone</text>
<line x1="356.0" y1="442.5" x2="369.6" y2="442.5" stroke="#3bb346" stroke-width="1.1"/>
<text x="374.2" y="445.0" font-size="7.1" fill="#333">PFC-alone</text>
<rect x="419.5" y="322.3" width="244" height="85.6" fill="none" stroke="#f3a23a" stroke-width="1.5" stroke-dasharray="3.6 3.7" stroke-dashoffset="1"/>
<rect x="419.5" y="416.5" width="244" height="86" fill="none" stroke="#2fae5a" stroke-width="1.5" stroke-dasharray="3.6 3.7" stroke-dashoffset="1"/>
<line x1="476.1" y1="326.5" x2="476.1" y2="396.8" stroke="#dadbdb" stroke-width="2.5"/>
<line x1="433.0" y1="364.7" x2="528.0" y2="364.7" stroke="#dadbdb" stroke-width="2.5"/>
<text x="431.0" y="365.8" font-size="7" text-anchor="middle" fill="#222" transform="rotate(-90 431 365.8)">RULE</text>
<text x="477.0" y="404.4" font-size="7.1" text-anchor="middle" fill="#222">CHOICE</text>
<polyline points="476.1,364.7 473.8,356.9 468.1,360.7 462.4,366.4 458.7,373.0 453.9,373.4 450.1,377.8 446.3,381.2" fill="none" stroke="#c9c9c9" stroke-width="1" stroke-linejoin="round"/>
<circle cx="476.1" cy="364.7" r="1.5" fill="#c9c9c9"/>
<circle cx="473.8" cy="356.9" r="1.5" fill="#c9c9c9"/>
<circle cx="468.1" cy="360.7" r="1.5" fill="#c9c9c9"/>
<circle cx="462.4" cy="366.4" r="1.5" fill="#c9c9c9"/>
<circle cx="458.7" cy="373.0" r="1.5" fill="#c9c9c9"/>
<circle cx="453.9" cy="373.4" r="1.5" fill="#c9c9c9"/>
<circle cx="450.1" cy="377.8" r="1.5" fill="#c9c9c9"/>
<circle cx="446.3" cy="381.2" r="1.5" fill="#c9c9c9"/>
<polyline points="476.1,364.7 470.6,350.3 466.2,356.0 460.5,358.8 454.9,360.1 450.1,367.0 446.3,374.9 443.5,377.5 441.6,379.1" fill="none" stroke="#8e8e8e" stroke-width="1" stroke-linejoin="round"/>
<circle cx="476.1" cy="364.7" r="1.5" fill="#8e8e8e"/>
<circle cx="470.6" cy="350.3" r="1.5" fill="#8e8e8e"/>
<circle cx="466.2" cy="356.0" r="1.5" fill="#8e8e8e"/>
<circle cx="460.5" cy="358.8" r="1.5" fill="#8e8e8e"/>
<circle cx="454.9" cy="360.1" r="1.5" fill="#8e8e8e"/>
<circle cx="450.1" cy="367.0" r="1.5" fill="#8e8e8e"/>
<circle cx="446.3" cy="374.9" r="1.5" fill="#8e8e8e"/>
<circle cx="443.5" cy="377.5" r="1.5" fill="#8e8e8e"/>
<circle cx="441.6" cy="379.1" r="1.5" fill="#8e8e8e"/>
<polyline points="476.1,364.7 471.0,348.4 464.0,336.4 457.7,349.3 444.4,351.6 439.7,355.4 438.2,367.3" fill="none" stroke="#1b1b1b" stroke-width="1" stroke-linejoin="round"/>
<circle cx="476.1" cy="364.7" r="1.5" fill="#1b1b1b"/>
<circle cx="471.0" cy="348.4" r="1.5" fill="#1b1b1b"/>
<circle cx="464.0" cy="336.4" r="1.5" fill="#1b1b1b"/>
<circle cx="457.7" cy="349.3" r="1.5" fill="#1b1b1b"/>
<circle cx="444.4" cy="351.6" r="1.5" fill="#1b1b1b"/>
<circle cx="439.7" cy="355.4" r="1.5" fill="#1b1b1b"/>
<circle cx="438.2" cy="367.3" r="1.5" fill="#1b1b1b"/>
<circle cx="438.2" cy="367.3" r="2.4" fill="#1b1b1b"/>
<polyline points="476.1,364.7 479.5,373.0 481.8,369.2 485.6,369.2 488.1,373.0 491.3,369.6 493.8,374.6 497.0,373.0" fill="none" stroke="#a9bbdc" stroke-width="1" stroke-linejoin="round"/>
<circle cx="476.1" cy="364.7" r="1.5" fill="#a9bbdc"/>
<circle cx="479.5" cy="373.0" r="1.5" fill="#a9bbdc"/>
<circle cx="481.8" cy="369.2" r="1.5" fill="#a9bbdc"/>
<circle cx="485.6" cy="369.2" r="1.5" fill="#a9bbdc"/>
<circle cx="488.1" cy="373.0" r="1.5" fill="#a9bbdc"/>
<circle cx="491.3" cy="369.6" r="1.5" fill="#a9bbdc"/>
<circle cx="493.8" cy="374.6" r="1.5" fill="#a9bbdc"/>
<circle cx="497.0" cy="373.0" r="1.5" fill="#a9bbdc"/>
<polyline points="476.1,364.7 482.4,378.7 486.2,373.0 493.8,372.1 497.6,374.6 501.9,371.5 505.1,366.4 510.8,363.9 514.1,358.2" fill="none" stroke="#80c7ea" stroke-width="1" stroke-linejoin="round"/>
<circle cx="476.1" cy="364.7" r="1.5" fill="#80c7ea"/>
<circle cx="482.4" cy="378.7" r="1.5" fill="#80c7ea"/>
<circle cx="486.2" cy="373.0" r="1.5" fill="#80c7ea"/>
<circle cx="493.8" cy="372.1" r="1.5" fill="#80c7ea"/>
<circle cx="497.6" cy="374.6" r="1.5" fill="#80c7ea"/>
<circle cx="501.9" cy="371.5" r="1.5" fill="#80c7ea"/>
<circle cx="505.1" cy="366.4" r="1.5" fill="#80c7ea"/>
<circle cx="510.8" cy="363.9" r="1.5" fill="#80c7ea"/>
<circle cx="514.1" cy="358.2" r="1.5" fill="#80c7ea"/>
<polyline points="476.1,364.7 488.6,393.9 493.8,382.5 507.4,378.2 514.3,363.0 517.5,348.0 520.3,337.0 522.2,330.3 523.6,329.4" fill="none" stroke="#1f70b4" stroke-width="1" stroke-linejoin="round"/>
<circle cx="476.1" cy="364.7" r="1.5" fill="#1f70b4"/>
<circle cx="488.6" cy="393.9" r="1.5" fill="#1f70b4"/>
<circle cx="493.8" cy="382.5" r="1.5" fill="#1f70b4"/>
<circle cx="507.4" cy="378.2" r="1.5" fill="#1f70b4"/>
<circle cx="514.3" cy="363.0" r="1.5" fill="#1f70b4"/>
<circle cx="517.5" cy="348.0" r="1.5" fill="#1f70b4"/>
<circle cx="520.3" cy="337.0" r="1.5" fill="#1f70b4"/>
<circle cx="522.2" cy="330.3" r="1.5" fill="#1f70b4"/>
<circle cx="523.6" cy="329.4" r="1.5" fill="#1f70b4"/>
<circle cx="523.0" cy="329.8" r="2" fill="#1f70b4"/>
<circle cx="476.1" cy="364.7" r="2.5" fill="#f6a623"/>
<line x1="562.0" y1="327.9" x2="562.0" y2="395.8" stroke="#555" stroke-width="0.8"/>
<line x1="562.0" y1="395.8" x2="656.2" y2="395.8" stroke="#555" stroke-width="0.8"/>
<line x1="559.5" y1="392.9" x2="562.0" y2="392.9" stroke="#555" stroke-width="0.8"/>
<text x="558.0" y="395.9" font-size="8.3" text-anchor="end" fill="#222">0</text>
<line x1="559.5" y1="378.5" x2="562.0" y2="378.5" stroke="#555" stroke-width="0.8"/>
<text x="558.0" y="381.5" font-size="8.3" text-anchor="end" fill="#222">1</text>
<line x1="559.5" y1="364.1" x2="562.0" y2="364.1" stroke="#555" stroke-width="0.8"/>
<text x="558.0" y="367.1" font-size="8.3" text-anchor="end" fill="#222">2</text>
<line x1="559.5" y1="349.7" x2="562.0" y2="349.7" stroke="#555" stroke-width="0.8"/>
<text x="558.0" y="352.7" font-size="8.3" text-anchor="end" fill="#222">3</text>
<line x1="559.5" y1="335.3" x2="562.0" y2="335.3" stroke="#555" stroke-width="0.8"/>
<text x="558.0" y="338.3" font-size="8.3" text-anchor="end" fill="#222">4</text>
<text x="548.4" y="366.8" font-size="6.8" text-anchor="middle" fill="#222" transform="rotate(-90 548.4 366.8)">Velocity (arb. units)</text>
<text x="588.7" y="403.1" font-size="9" text-anchor="middle" fill="#222">cueing</text>
<text x="636.4" y="403.1" font-size="9" text-anchor="middle" fill="#222">delay</text>
<polyline points="566.1,377.8 571.2,386.4 576.3,373.5 581.4,376.3 586.5,375.6 591.6,375.6 596.7,376.3 601.8,375.6 606.9,377.8" fill="none" stroke="#c9c9c9" stroke-width="0.9" stroke-linejoin="round"/>
<circle cx="566.1" cy="377.8" r="1.2" fill="#c9c9c9"/>
<circle cx="571.2" cy="386.4" r="1.2" fill="#c9c9c9"/>
<circle cx="576.3" cy="373.5" r="1.2" fill="#c9c9c9"/>
<circle cx="581.4" cy="376.3" r="1.2" fill="#c9c9c9"/>
<circle cx="586.5" cy="375.6" r="1.2" fill="#c9c9c9"/>
<circle cx="591.6" cy="375.6" r="1.2" fill="#c9c9c9"/>
<circle cx="596.7" cy="376.3" r="1.2" fill="#c9c9c9"/>
<circle cx="601.8" cy="375.6" r="1.2" fill="#c9c9c9"/>
<circle cx="606.9" cy="377.8" r="1.2" fill="#c9c9c9"/>
<polyline points="611.9,388.6 617.0,389.3 622.1,390.0 627.2,390.7 632.3,391.5 637.4,391.5 642.5,391.5 647.6,391.5 652.7,391.2" fill="none" stroke="#c9c9c9" stroke-width="0.9" stroke-linejoin="round"/>
<circle cx="611.9" cy="388.6" r="1.2" fill="#c9c9c9"/>
<circle cx="617.0" cy="389.3" r="1.2" fill="#c9c9c9"/>
<circle cx="622.1" cy="390.0" r="1.2" fill="#c9c9c9"/>
<circle cx="627.2" cy="390.7" r="1.2" fill="#c9c9c9"/>
<circle cx="632.3" cy="391.5" r="1.2" fill="#c9c9c9"/>
<circle cx="637.4" cy="391.5" r="1.2" fill="#c9c9c9"/>
<circle cx="642.5" cy="391.5" r="1.2" fill="#c9c9c9"/>
<circle cx="647.6" cy="391.5" r="1.2" fill="#c9c9c9"/>
<circle cx="652.7" cy="391.2" r="1.2" fill="#c9c9c9"/>
<polyline points="566.1,377.8 571.2,385.0 576.3,377.8 581.4,386.4 586.5,384.3 591.6,385.0 596.7,387.9 601.8,388.6 606.9,390.0" fill="none" stroke="#a9bbdc" stroke-width="0.9" stroke-linejoin="round"/>
<circle cx="566.1" cy="377.8" r="1.2" fill="#a9bbdc"/>
<circle cx="571.2" cy="385.0" r="1.2" fill="#a9bbdc"/>
<circle cx="576.3" cy="377.8" r="1.2" fill="#a9bbdc"/>
<circle cx="581.4" cy="386.4" r="1.2" fill="#a9bbdc"/>
<circle cx="586.5" cy="384.3" r="1.2" fill="#a9bbdc"/>
<circle cx="591.6" cy="385.0" r="1.2" fill="#a9bbdc"/>
<circle cx="596.7" cy="387.9" r="1.2" fill="#a9bbdc"/>
<circle cx="601.8" cy="388.6" r="1.2" fill="#a9bbdc"/>
<circle cx="606.9" cy="390.0" r="1.2" fill="#a9bbdc"/>
<polyline points="611.9,391.5 617.0,392.2 622.1,390.7 627.2,389.3 632.3,387.9 637.4,387.1 642.5,386.4 647.6,385.7 652.7,385.0" fill="none" stroke="#a9bbdc" stroke-width="0.9" stroke-linejoin="round"/>
<circle cx="611.9" cy="391.5" r="1.2" fill="#a9bbdc"/>
<circle cx="617.0" cy="392.2" r="1.2" fill="#a9bbdc"/>
<circle cx="622.1" cy="390.7" r="1.2" fill="#a9bbdc"/>
<circle cx="627.2" cy="389.3" r="1.2" fill="#a9bbdc"/>
<circle cx="632.3" cy="387.9" r="1.2" fill="#a9bbdc"/>
<circle cx="637.4" cy="387.1" r="1.2" fill="#a9bbdc"/>
<circle cx="642.5" cy="386.4" r="1.2" fill="#a9bbdc"/>
<circle cx="647.6" cy="385.7" r="1.2" fill="#a9bbdc"/>
<circle cx="652.7" cy="385.0" r="1.2" fill="#a9bbdc"/>
<polyline points="566.1,363.4 571.2,380.7 576.3,361.2 581.4,372.0 586.5,374.2 591.6,372.0 596.7,383.5 601.8,387.9 606.9,390.7" fill="none" stroke="#8e8e8e" stroke-width="0.9" stroke-linejoin="round"/>
<circle cx="566.1" cy="363.4" r="1.2" fill="#8e8e8e"/>
<circle cx="571.2" cy="380.7" r="1.2" fill="#8e8e8e"/>
<circle cx="576.3" cy="361.2" r="1.2" fill="#8e8e8e"/>
<circle cx="581.4" cy="372.0" r="1.2" fill="#8e8e8e"/>
<circle cx="586.5" cy="374.2" r="1.2" fill="#8e8e8e"/>
<circle cx="591.6" cy="372.0" r="1.2" fill="#8e8e8e"/>
<circle cx="596.7" cy="383.5" r="1.2" fill="#8e8e8e"/>
<circle cx="601.8" cy="387.9" r="1.2" fill="#8e8e8e"/>
<circle cx="606.9" cy="390.7" r="1.2" fill="#8e8e8e"/>
<polyline points="611.9,389.3 617.0,390.0 622.1,390.7 627.2,391.5 632.3,392.2 637.4,392.2 642.5,391.7 647.6,391.5 652.7,391.2" fill="none" stroke="#8e8e8e" stroke-width="0.9" stroke-linejoin="round"/>
<circle cx="611.9" cy="389.3" r="1.2" fill="#8e8e8e"/>
<circle cx="617.0" cy="390.0" r="1.2" fill="#8e8e8e"/>
<circle cx="622.1" cy="390.7" r="1.2" fill="#8e8e8e"/>
<circle cx="627.2" cy="391.5" r="1.2" fill="#8e8e8e"/>
<circle cx="632.3" cy="392.2" r="1.2" fill="#8e8e8e"/>
<circle cx="637.4" cy="392.2" r="1.2" fill="#8e8e8e"/>
<circle cx="642.5" cy="391.7" r="1.2" fill="#8e8e8e"/>
<circle cx="647.6" cy="391.5" r="1.2" fill="#8e8e8e"/>
<circle cx="652.7" cy="391.2" r="1.2" fill="#8e8e8e"/>
<polyline points="566.1,363.4 571.2,375.6 576.3,365.5 581.4,374.9 586.5,376.3 591.6,375.6 596.7,379.2 601.8,379.9 606.9,380.7" fill="none" stroke="#80c7ea" stroke-width="0.9" stroke-linejoin="round"/>
<circle cx="566.1" cy="363.4" r="1.2" fill="#80c7ea"/>
<circle cx="571.2" cy="375.6" r="1.2" fill="#80c7ea"/>
<circle cx="576.3" cy="365.5" r="1.2" fill="#80c7ea"/>
<circle cx="581.4" cy="374.9" r="1.2" fill="#80c7ea"/>
<circle cx="586.5" cy="376.3" r="1.2" fill="#80c7ea"/>
<circle cx="591.6" cy="375.6" r="1.2" fill="#80c7ea"/>
<circle cx="596.7" cy="379.2" r="1.2" fill="#80c7ea"/>
<circle cx="601.8" cy="379.9" r="1.2" fill="#80c7ea"/>
<circle cx="606.9" cy="380.7" r="1.2" fill="#80c7ea"/>
<polyline points="611.9,382.8 617.0,385.0 622.1,387.1 627.2,388.6 632.3,389.3 637.4,390.0 642.5,390.7 647.6,391.2 652.7,391.2" fill="none" stroke="#80c7ea" stroke-width="0.9" stroke-linejoin="round"/>
<circle cx="611.9" cy="382.8" r="1.2" fill="#80c7ea"/>
<circle cx="617.0" cy="385.0" r="1.2" fill="#80c7ea"/>
<circle cx="622.1" cy="387.1" r="1.2" fill="#80c7ea"/>
<circle cx="627.2" cy="388.6" r="1.2" fill="#80c7ea"/>
<circle cx="632.3" cy="389.3" r="1.2" fill="#80c7ea"/>
<circle cx="637.4" cy="390.0" r="1.2" fill="#80c7ea"/>
<circle cx="642.5" cy="390.7" r="1.2" fill="#80c7ea"/>
<circle cx="647.6" cy="391.2" r="1.2" fill="#80c7ea"/>
<circle cx="652.7" cy="391.2" r="1.2" fill="#80c7ea"/>
<polyline points="566.1,331.0 571.2,367.0 576.3,335.3 581.4,358.3 586.5,372.7 591.6,375.6 596.7,383.5 601.8,388.6 606.9,390.7" fill="none" stroke="#1f70b4" stroke-width="0.9" stroke-linejoin="round"/>
<circle cx="566.1" cy="331.0" r="1.2" fill="#1f70b4"/>
<circle cx="571.2" cy="367.0" r="1.2" fill="#1f70b4"/>
<circle cx="576.3" cy="335.3" r="1.2" fill="#1f70b4"/>
<circle cx="581.4" cy="358.3" r="1.2" fill="#1f70b4"/>
<circle cx="586.5" cy="372.7" r="1.2" fill="#1f70b4"/>
<circle cx="591.6" cy="375.6" r="1.2" fill="#1f70b4"/>
<circle cx="596.7" cy="383.5" r="1.2" fill="#1f70b4"/>
<circle cx="601.8" cy="388.6" r="1.2" fill="#1f70b4"/>
<circle cx="606.9" cy="390.7" r="1.2" fill="#1f70b4"/>
<polyline points="611.9,388.6 617.0,388.6 622.1,390.0 627.2,392.2 632.3,392.5 637.4,392.2 642.5,391.5 647.6,391.5 652.7,391.2" fill="none" stroke="#1f70b4" stroke-width="0.9" stroke-linejoin="round"/>
<circle cx="611.9" cy="388.6" r="1.2" fill="#1f70b4"/>
<circle cx="617.0" cy="388.6" r="1.2" fill="#1f70b4"/>
<circle cx="622.1" cy="390.0" r="1.2" fill="#1f70b4"/>
<circle cx="627.2" cy="392.2" r="1.2" fill="#1f70b4"/>
<circle cx="632.3" cy="392.5" r="1.2" fill="#1f70b4"/>
<circle cx="637.4" cy="392.2" r="1.2" fill="#1f70b4"/>
<circle cx="642.5" cy="391.5" r="1.2" fill="#1f70b4"/>
<circle cx="647.6" cy="391.5" r="1.2" fill="#1f70b4"/>
<circle cx="652.7" cy="391.2" r="1.2" fill="#1f70b4"/>
<polyline points="566.1,331.0 571.2,364.8 576.3,341.8 581.4,372.7 586.5,379.2 591.6,388.6 596.7,390.7 601.8,390.0 606.9,390.7" fill="none" stroke="#1b1b1b" stroke-width="0.9" stroke-linejoin="round"/>
<circle cx="566.1" cy="331.0" r="1.2" fill="#1b1b1b"/>
<circle cx="571.2" cy="364.8" r="1.2" fill="#1b1b1b"/>
<circle cx="576.3" cy="341.8" r="1.2" fill="#1b1b1b"/>
<circle cx="581.4" cy="372.7" r="1.2" fill="#1b1b1b"/>
<circle cx="586.5" cy="379.2" r="1.2" fill="#1b1b1b"/>
<circle cx="591.6" cy="388.6" r="1.2" fill="#1b1b1b"/>
<circle cx="596.7" cy="390.7" r="1.2" fill="#1b1b1b"/>
<circle cx="601.8" cy="390.0" r="1.2" fill="#1b1b1b"/>
<circle cx="606.9" cy="390.7" r="1.2" fill="#1b1b1b"/>
<polyline points="611.9,387.9 617.0,388.6 622.1,390.0 627.2,392.2 632.3,392.5 637.4,392.2 642.5,391.5 647.6,391.5 652.7,391.2" fill="none" stroke="#1b1b1b" stroke-width="0.9" stroke-linejoin="round"/>
<circle cx="611.9" cy="387.9" r="1.2" fill="#1b1b1b"/>
<circle cx="617.0" cy="388.6" r="1.2" fill="#1b1b1b"/>
<circle cx="622.1" cy="390.0" r="1.2" fill="#1b1b1b"/>
<circle cx="627.2" cy="392.2" r="1.2" fill="#1b1b1b"/>
<circle cx="632.3" cy="392.5" r="1.2" fill="#1b1b1b"/>
<circle cx="637.4" cy="392.2" r="1.2" fill="#1b1b1b"/>
<circle cx="642.5" cy="391.5" r="1.2" fill="#1b1b1b"/>
<circle cx="647.6" cy="391.5" r="1.2" fill="#1b1b1b"/>
<circle cx="652.7" cy="391.2" r="1.2" fill="#1b1b1b"/>
<line x1="458.7" y1="420.5" x2="458.7" y2="490.8" stroke="#dadbdb" stroke-width="2.5"/>
<line x1="434.0" y1="457.0" x2="528.9" y2="457.0" stroke="#dadbdb" stroke-width="2.5"/>
<text x="431.0" y="456.7" font-size="7" text-anchor="middle" fill="#222" transform="rotate(-90 431 456.7)">RULE</text>
<text x="458.6" y="498.0" font-size="7.1" text-anchor="middle" fill="#222">CHOICE</text>
<polyline points="458.7,457.0 453.5,452.5 449.0,449.5 446.0,452.5 443.1,456.0" fill="none" stroke="#c9c9c9" stroke-width="1" stroke-linejoin="round"/>
<circle cx="458.7" cy="457.0" r="1.6" fill="#c9c9c9"/>
<circle cx="453.5" cy="452.5" r="1.6" fill="#c9c9c9"/>
<circle cx="449.0" cy="449.5" r="1.6" fill="#c9c9c9"/>
<circle cx="446.0" cy="452.5" r="1.6" fill="#c9c9c9"/>
<circle cx="443.1" cy="456.0" r="1.6" fill="#c9c9c9"/>
<polyline points="458.7,457.0 452.5,446.5 449.2,442.4 444.4,445.2 441.6,449.0 439.7,451.9" fill="none" stroke="#8e8e8e" stroke-width="1" stroke-linejoin="round"/>
<circle cx="458.7" cy="457.0" r="1.6" fill="#8e8e8e"/>
<circle cx="452.5" cy="446.5" r="1.6" fill="#8e8e8e"/>
<circle cx="449.2" cy="442.4" r="1.6" fill="#8e8e8e"/>
<circle cx="444.4" cy="445.2" r="1.6" fill="#8e8e8e"/>
<circle cx="441.6" cy="449.0" r="1.6" fill="#8e8e8e"/>
<circle cx="439.7" cy="451.9" r="1.6" fill="#8e8e8e"/>
<polyline points="458.7,457.0 447.6,423.8 448.8,438.6 445.0,440.5 441.6,443.3 438.2,446.5" fill="none" stroke="#1b1b1b" stroke-width="1" stroke-linejoin="round"/>
<circle cx="458.7" cy="457.0" r="1.5" fill="#1b1b1b"/>
<circle cx="447.6" cy="423.8" r="1.5" fill="#1b1b1b"/>
<circle cx="448.8" cy="438.6" r="1.5" fill="#1b1b1b"/>
<circle cx="445.0" cy="440.5" r="1.5" fill="#1b1b1b"/>
<circle cx="441.6" cy="443.3" r="1.5" fill="#1b1b1b"/>
<circle cx="438.2" cy="446.5" r="1.5" fill="#1b1b1b"/>
<line x1="447.6" y1="423.8" x2="453.0" y2="450.9" stroke="#1b1b1b" stroke-width="0.8"/>
<circle cx="453.0" cy="450.9" r="1.5" fill="#1b1b1b"/>
<polyline points="458.7,457.0 453.9,457.9 450.1,461.7 446.9,462.9 447.6,466.1" fill="none" stroke="#a9bbdc" stroke-width="1" stroke-linejoin="round"/>
<circle cx="458.7" cy="457.0" r="1.5" fill="#a9bbdc"/>
<circle cx="453.9" cy="457.9" r="1.5" fill="#a9bbdc"/>
<circle cx="450.1" cy="461.7" r="1.5" fill="#a9bbdc"/>
<circle cx="446.9" cy="462.9" r="1.5" fill="#a9bbdc"/>
<circle cx="447.6" cy="466.1" r="1.5" fill="#a9bbdc"/>
<polyline points="458.7,457.0 461.5,459.4 461.5,463.6 463.4,469.9 458.7,470.8 456.8,473.7 457.7,476.5" fill="none" stroke="#80c7ea" stroke-width="1" stroke-linejoin="round"/>
<circle cx="458.7" cy="457.0" r="1.5" fill="#80c7ea"/>
<circle cx="461.5" cy="459.4" r="1.5" fill="#80c7ea"/>
<circle cx="461.5" cy="463.6" r="1.5" fill="#80c7ea"/>
<circle cx="463.4" cy="469.9" r="1.5" fill="#80c7ea"/>
<circle cx="458.7" cy="470.8" r="1.5" fill="#80c7ea"/>
<circle cx="456.8" cy="473.7" r="1.5" fill="#80c7ea"/>
<circle cx="457.7" cy="476.5" r="1.5" fill="#80c7ea"/>
<polyline points="458.7,457.0 460.5,460.4 464.7,472.4 470.0,488.9 468.7,472.4 472.9,480.3 482.4,488.3 497.9,481.3 512.2,467.4 521.7,454.1 524.1,448.1 524.5,447.1" fill="none" stroke="#1f70b4" stroke-width="1" stroke-linejoin="round"/>
<circle cx="458.7" cy="457.0" r="1.5" fill="#1f70b4"/>
<circle cx="460.5" cy="460.4" r="1.5" fill="#1f70b4"/>
<circle cx="464.7" cy="472.4" r="1.5" fill="#1f70b4"/>
<circle cx="470.0" cy="488.9" r="1.5" fill="#1f70b4"/>
<circle cx="468.7" cy="472.4" r="1.5" fill="#1f70b4"/>
<circle cx="472.9" cy="480.3" r="1.5" fill="#1f70b4"/>
<circle cx="482.4" cy="488.3" r="1.5" fill="#1f70b4"/>
<circle cx="497.9" cy="481.3" r="1.5" fill="#1f70b4"/>
<circle cx="512.2" cy="467.4" r="1.5" fill="#1f70b4"/>
<circle cx="521.7" cy="454.1" r="1.5" fill="#1f70b4"/>
<circle cx="524.1" cy="448.1" r="1.5" fill="#1f70b4"/>
<circle cx="524.5" cy="447.1" r="1.5" fill="#1f70b4"/>
<circle cx="458.7" cy="457.0" r="2.5" fill="#f6a623"/>
<line x1="561.6" y1="420.9" x2="561.6" y2="490.2" stroke="#555" stroke-width="0.8"/>
<line x1="561.6" y1="490.2" x2="655.6" y2="490.2" stroke="#555" stroke-width="0.8"/>
<line x1="559.1" y1="487.3" x2="561.6" y2="487.3" stroke="#555" stroke-width="0.8"/>
<text x="557.6" y="490.3" font-size="8.3" text-anchor="end" fill="#222">0</text>
<line x1="559.1" y1="465.9" x2="561.6" y2="465.9" stroke="#555" stroke-width="0.8"/>
<text x="557.6" y="468.9" font-size="8.3" text-anchor="end" fill="#222">1</text>
<line x1="559.1" y1="444.5" x2="561.6" y2="444.5" stroke="#555" stroke-width="0.8"/>
<text x="557.6" y="447.5" font-size="8.3" text-anchor="end" fill="#222">2</text>
<line x1="559.1" y1="423.1" x2="561.6" y2="423.1" stroke="#555" stroke-width="0.8"/>
<text x="557.6" y="426.1" font-size="8.3" text-anchor="end" fill="#222">3</text>
<text x="548.4" y="456.9" font-size="6.8" text-anchor="middle" fill="#222" transform="rotate(-90 548.4 456.9)">Velocity (arb. units)</text>
<text x="586.7" y="498.5" font-size="9" text-anchor="middle" fill="#222">cueing</text>
<text x="634.9" y="498.5" font-size="9" text-anchor="middle" fill="#222">delay</text>
<polyline points="565.5,472.3 570.6,475.5 575.6,484.1 580.7,478.7 585.8,477.7 590.9,476.6 595.9,478.7 601.0,481.9 606.1,485.2" fill="none" stroke="#c9c9c9" stroke-width="0.9" stroke-linejoin="round"/>
<circle cx="565.5" cy="472.3" r="1.2" fill="#c9c9c9"/>
<circle cx="570.6" cy="475.5" r="1.2" fill="#c9c9c9"/>
<circle cx="575.6" cy="484.1" r="1.2" fill="#c9c9c9"/>
<circle cx="580.7" cy="478.7" r="1.2" fill="#c9c9c9"/>
<circle cx="585.8" cy="477.7" r="1.2" fill="#c9c9c9"/>
<circle cx="590.9" cy="476.6" r="1.2" fill="#c9c9c9"/>
<circle cx="595.9" cy="478.7" r="1.2" fill="#c9c9c9"/>
<circle cx="601.0" cy="481.9" r="1.2" fill="#c9c9c9"/>
<circle cx="606.1" cy="485.2" r="1.2" fill="#c9c9c9"/>
<polyline points="610.9,480.9 616.0,486.2 621.1,486.9 626.2,486.9 631.3,486.9 636.4,486.9 641.5,486.9 646.6,486.9 651.7,486.9" fill="none" stroke="#c9c9c9" stroke-width="0.9" stroke-linejoin="round"/>
<circle cx="610.9" cy="480.9" r="1.2" fill="#c9c9c9"/>
<circle cx="616.0" cy="486.2" r="1.2" fill="#c9c9c9"/>
<circle cx="621.1" cy="486.9" r="1.2" fill="#c9c9c9"/>
<circle cx="626.2" cy="486.9" r="1.2" fill="#c9c9c9"/>
<circle cx="631.3" cy="486.9" r="1.2" fill="#c9c9c9"/>
<circle cx="636.4" cy="486.9" r="1.2" fill="#c9c9c9"/>
<circle cx="641.5" cy="486.9" r="1.2" fill="#c9c9c9"/>
<circle cx="646.6" cy="486.9" r="1.2" fill="#c9c9c9"/>
<circle cx="651.7" cy="486.9" r="1.2" fill="#c9c9c9"/>
<polyline points="565.5,472.3 570.6,472.3 575.6,483.0 580.7,479.8 585.8,479.8 590.9,479.8 595.9,480.9 601.0,483.0 606.1,485.2" fill="none" stroke="#a9bbdc" stroke-width="0.9" stroke-linejoin="round"/>
<circle cx="565.5" cy="472.3" r="1.2" fill="#a9bbdc"/>
<circle cx="570.6" cy="472.3" r="1.2" fill="#a9bbdc"/>
<circle cx="575.6" cy="483.0" r="1.2" fill="#a9bbdc"/>
<circle cx="580.7" cy="479.8" r="1.2" fill="#a9bbdc"/>
<circle cx="585.8" cy="479.8" r="1.2" fill="#a9bbdc"/>
<circle cx="590.9" cy="479.8" r="1.2" fill="#a9bbdc"/>
<circle cx="595.9" cy="480.9" r="1.2" fill="#a9bbdc"/>
<circle cx="601.0" cy="483.0" r="1.2" fill="#a9bbdc"/>
<circle cx="606.1" cy="485.2" r="1.2" fill="#a9bbdc"/>
<polyline points="610.9,480.9 616.0,486.2 621.1,486.9 626.2,486.9 631.3,486.9 636.4,486.9 641.5,486.9 646.6,486.9 651.7,486.9" fill="none" stroke="#a9bbdc" stroke-width="0.9" stroke-linejoin="round"/>
<circle cx="610.9" cy="480.9" r="1.2" fill="#a9bbdc"/>
<circle cx="616.0" cy="486.2" r="1.2" fill="#a9bbdc"/>
<circle cx="621.1" cy="486.9" r="1.2" fill="#a9bbdc"/>
<circle cx="626.2" cy="486.9" r="1.2" fill="#a9bbdc"/>
<circle cx="631.3" cy="486.9" r="1.2" fill="#a9bbdc"/>
<circle cx="636.4" cy="486.9" r="1.2" fill="#a9bbdc"/>
<circle cx="641.5" cy="486.9" r="1.2" fill="#a9bbdc"/>
<circle cx="646.6" cy="486.9" r="1.2" fill="#a9bbdc"/>
<circle cx="651.7" cy="486.9" r="1.2" fill="#a9bbdc"/>
<polyline points="565.5,471.2 570.6,474.5 575.6,485.2 580.7,480.9 585.8,480.9 590.9,475.5 595.9,485.2 601.0,484.1 606.1,483.0" fill="none" stroke="#80c7ea" stroke-width="0.9" stroke-linejoin="round"/>
<circle cx="565.5" cy="471.2" r="1.2" fill="#80c7ea"/>
<circle cx="570.6" cy="474.5" r="1.2" fill="#80c7ea"/>
<circle cx="575.6" cy="485.2" r="1.2" fill="#80c7ea"/>
<circle cx="580.7" cy="480.9" r="1.2" fill="#80c7ea"/>
<circle cx="585.8" cy="480.9" r="1.2" fill="#80c7ea"/>
<circle cx="590.9" cy="475.5" r="1.2" fill="#80c7ea"/>
<circle cx="595.9" cy="485.2" r="1.2" fill="#80c7ea"/>
<circle cx="601.0" cy="484.1" r="1.2" fill="#80c7ea"/>
<circle cx="606.1" cy="483.0" r="1.2" fill="#80c7ea"/>
<polyline points="610.9,479.8 616.0,486.2 621.1,486.9 626.2,486.9 631.3,486.9 636.4,486.9 641.5,486.9 646.6,486.9 651.7,486.9" fill="none" stroke="#80c7ea" stroke-width="0.9" stroke-linejoin="round"/>
<circle cx="610.9" cy="479.8" r="1.2" fill="#80c7ea"/>
<circle cx="616.0" cy="486.2" r="1.2" fill="#80c7ea"/>
<circle cx="621.1" cy="486.9" r="1.2" fill="#80c7ea"/>
<circle cx="626.2" cy="486.9" r="1.2" fill="#80c7ea"/>
<circle cx="631.3" cy="486.9" r="1.2" fill="#80c7ea"/>
<circle cx="636.4" cy="486.9" r="1.2" fill="#80c7ea"/>
<circle cx="641.5" cy="486.9" r="1.2" fill="#80c7ea"/>
<circle cx="646.6" cy="486.9" r="1.2" fill="#80c7ea"/>
<circle cx="651.7" cy="486.9" r="1.2" fill="#80c7ea"/>
<polyline points="565.5,457.3 570.6,469.1 575.6,484.1 580.7,479.8 585.8,478.7 590.9,476.6 595.9,479.8 601.0,484.1 606.1,485.2" fill="none" stroke="#8e8e8e" stroke-width="0.9" stroke-linejoin="round"/>
<circle cx="565.5" cy="457.3" r="1.2" fill="#8e8e8e"/>
<circle cx="570.6" cy="469.1" r="1.2" fill="#8e8e8e"/>
<circle cx="575.6" cy="484.1" r="1.2" fill="#8e8e8e"/>
<circle cx="580.7" cy="479.8" r="1.2" fill="#8e8e8e"/>
<circle cx="585.8" cy="478.7" r="1.2" fill="#8e8e8e"/>
<circle cx="590.9" cy="476.6" r="1.2" fill="#8e8e8e"/>
<circle cx="595.9" cy="479.8" r="1.2" fill="#8e8e8e"/>
<circle cx="601.0" cy="484.1" r="1.2" fill="#8e8e8e"/>
<circle cx="606.1" cy="485.2" r="1.2" fill="#8e8e8e"/>
<polyline points="610.9,478.7 616.0,486.2 621.1,486.9 626.2,486.9 631.3,486.9 636.4,486.9 641.5,486.9 646.6,486.9 651.7,486.9" fill="none" stroke="#8e8e8e" stroke-width="0.9" stroke-linejoin="round"/>
<circle cx="610.9" cy="478.7" r="1.2" fill="#8e8e8e"/>
<circle cx="616.0" cy="486.2" r="1.2" fill="#8e8e8e"/>
<circle cx="621.1" cy="486.9" r="1.2" fill="#8e8e8e"/>
<circle cx="626.2" cy="486.9" r="1.2" fill="#8e8e8e"/>
<circle cx="631.3" cy="486.9" r="1.2" fill="#8e8e8e"/>
<circle cx="636.4" cy="486.9" r="1.2" fill="#8e8e8e"/>
<circle cx="641.5" cy="486.9" r="1.2" fill="#8e8e8e"/>
<circle cx="646.6" cy="486.9" r="1.2" fill="#8e8e8e"/>
<circle cx="651.7" cy="486.9" r="1.2" fill="#8e8e8e"/>
<polyline points="565.5,426.3 570.6,454.1 575.6,472.3 580.7,454.1 585.8,434.9 590.9,440.2 595.9,461.6 601.0,477.7 606.1,484.1" fill="none" stroke="#1f70b4" stroke-width="0.9" stroke-linejoin="round"/>
<circle cx="565.5" cy="426.3" r="1.2" fill="#1f70b4"/>
<circle cx="570.6" cy="454.1" r="1.2" fill="#1f70b4"/>
<circle cx="575.6" cy="472.3" r="1.2" fill="#1f70b4"/>
<circle cx="580.7" cy="454.1" r="1.2" fill="#1f70b4"/>
<circle cx="585.8" cy="434.9" r="1.2" fill="#1f70b4"/>
<circle cx="590.9" cy="440.2" r="1.2" fill="#1f70b4"/>
<circle cx="595.9" cy="461.6" r="1.2" fill="#1f70b4"/>
<circle cx="601.0" cy="477.7" r="1.2" fill="#1f70b4"/>
<circle cx="606.1" cy="484.1" r="1.2" fill="#1f70b4"/>
<polyline points="610.9,480.9 616.0,486.2 621.1,486.9 626.2,486.9 631.3,486.9 636.4,486.9 641.5,486.9 646.6,486.9 651.7,486.9" fill="none" stroke="#1f70b4" stroke-width="0.9" stroke-linejoin="round"/>
<circle cx="610.9" cy="480.9" r="1.2" fill="#1f70b4"/>
<circle cx="616.0" cy="486.2" r="1.2" fill="#1f70b4"/>
<circle cx="621.1" cy="486.9" r="1.2" fill="#1f70b4"/>
<circle cx="626.2" cy="486.9" r="1.2" fill="#1f70b4"/>
<circle cx="631.3" cy="486.9" r="1.2" fill="#1f70b4"/>
<circle cx="636.4" cy="486.9" r="1.2" fill="#1f70b4"/>
<circle cx="641.5" cy="486.9" r="1.2" fill="#1f70b4"/>
<circle cx="646.6" cy="486.9" r="1.2" fill="#1f70b4"/>
<circle cx="651.7" cy="486.9" r="1.2" fill="#1f70b4"/>
<polyline points="565.5,426.3 570.6,444.5 575.6,480.9 580.7,476.6 585.8,475.5 590.9,477.7 595.9,479.8 601.0,484.1 606.1,485.2" fill="none" stroke="#1b1b1b" stroke-width="0.9" stroke-linejoin="round"/>
<circle cx="565.5" cy="426.3" r="1.2" fill="#1b1b1b"/>
<circle cx="570.6" cy="444.5" r="1.2" fill="#1b1b1b"/>
<circle cx="575.6" cy="480.9" r="1.2" fill="#1b1b1b"/>
<circle cx="580.7" cy="476.6" r="1.2" fill="#1b1b1b"/>
<circle cx="585.8" cy="475.5" r="1.2" fill="#1b1b1b"/>
<circle cx="590.9" cy="477.7" r="1.2" fill="#1b1b1b"/>
<circle cx="595.9" cy="479.8" r="1.2" fill="#1b1b1b"/>
<circle cx="601.0" cy="484.1" r="1.2" fill="#1b1b1b"/>
<circle cx="606.1" cy="485.2" r="1.2" fill="#1b1b1b"/>
<polyline points="610.9,471.2 616.0,485.2 621.1,486.9 626.2,486.9 631.3,486.9 636.4,486.9 641.5,486.9 646.6,486.9 651.7,486.9" fill="none" stroke="#1b1b1b" stroke-width="0.9" stroke-linejoin="round"/>
<circle cx="610.9" cy="471.2" r="1.2" fill="#1b1b1b"/>
<circle cx="616.0" cy="485.2" r="1.2" fill="#1b1b1b"/>
<circle cx="621.1" cy="486.9" r="1.2" fill="#1b1b1b"/>
<circle cx="626.2" cy="486.9" r="1.2" fill="#1b1b1b"/>
<circle cx="631.3" cy="486.9" r="1.2" fill="#1b1b1b"/>
<circle cx="636.4" cy="486.9" r="1.2" fill="#1b1b1b"/>
<circle cx="641.5" cy="486.9" r="1.2" fill="#1b1b1b"/>
<circle cx="646.6" cy="486.9" r="1.2" fill="#1b1b1b"/>
<circle cx="651.7" cy="486.9" r="1.2" fill="#1b1b1b"/>
<text x="2.0" y="532.0" font-size="17.5" fill="#111" font-weight="bold">k</text>
<line x1="34.3" y1="551.7" x2="34.3" y2="662.8" stroke="#777" stroke-width="0.9"/>
<line x1="34.3" y1="662.8" x2="108.0" y2="662.8" stroke="#777" stroke-width="0.9"/>
<line x1="31.3" y1="663.3" x2="34.3" y2="663.3" stroke="#777" stroke-width="0.9"/>
<text x="29.8" y="667.2" font-size="10.8" text-anchor="end" fill="#222">0</text>
<line x1="31.3" y1="644.3" x2="34.3" y2="644.3" stroke="#777" stroke-width="0.9"/>
<text x="29.8" y="648.2" font-size="10.8" text-anchor="end" fill="#222">20</text>
<line x1="31.3" y1="625.4" x2="34.3" y2="625.4" stroke="#777" stroke-width="0.9"/>
<text x="29.8" y="629.3" font-size="10.8" text-anchor="end" fill="#222">40</text>
<line x1="31.3" y1="606.4" x2="34.3" y2="606.4" stroke="#777" stroke-width="0.9"/>
<text x="29.8" y="610.3" font-size="10.8" text-anchor="end" fill="#222">60</text>
<line x1="31.3" y1="587.5" x2="34.3" y2="587.5" stroke="#777" stroke-width="0.9"/>
<text x="29.8" y="591.4" font-size="10.8" text-anchor="end" fill="#222">80</text>
<line x1="31.3" y1="568.5" x2="34.3" y2="568.5" stroke="#777" stroke-width="0.9"/>
<text x="29.8" y="572.4" font-size="10.8" text-anchor="end" fill="#222">100</text>
<rect x="46.9" y="561.8" width="10.9" height="101" fill="#8e8f92"/>
<rect x="84.2" y="618" width="10.9" height="44.8" fill="#1f74b6"/>
<line x1="52.3" y1="662.8" x2="52.3" y2="665.3" stroke="#777" stroke-width="0.9"/>
<line x1="89.5" y1="662.8" x2="89.5" y2="665.3" stroke="#777" stroke-width="0.9"/>
<line x1="52.3" y1="557.0" x2="52.3" y2="566.0" stroke="#222" stroke-width="1.1"/>
<line x1="50.8" y1="557.0" x2="53.8" y2="557.0" stroke="#222" stroke-width="0.9"/>
<circle cx="52.3" cy="557.5" r="1.2" fill="none" stroke="#444" stroke-width="0.7"/>
<circle cx="52.3" cy="560.5" r="1.2" fill="none" stroke="#444" stroke-width="0.7"/>
<circle cx="52.3" cy="563" r="1.2" fill="none" stroke="#444" stroke-width="0.7"/>
<circle cx="52.3" cy="565.5" r="1.2" fill="none" stroke="#444" stroke-width="0.7"/>
<circle cx="52.3" cy="569.5" r="1.2" fill="none" stroke="#444" stroke-width="0.7"/>
<circle cx="89.4" cy="617.6" r="1.9" fill="#222"/>
<line x1="89.4" y1="615.5" x2="89.4" y2="619.5" stroke="#222" stroke-width="1.1"/>
<path d="M53,551.7 V546.9 H89.9 V551.7" fill="none" stroke="#666" stroke-width="0.85"/>
<text x="71.9" y="549.4" font-size="10" text-anchor="middle" fill="#333">***</text>
<text x="8.2" y="610.0" font-size="10.2" text-anchor="middle" fill="#222" transform="rotate(-90 8.2 610)">Time constant (ms)</text>
<text x="35.8" y="671.4" font-size="9.2" fill="#222" transform="rotate(30 35.8 671.4)">PFC-MD</text>
<text x="73.4" y="671.6" font-size="9.2" fill="#222" transform="rotate(30 73.4 671.6)">PFC-alone</text>
<text x="137.5" y="531.3" font-size="17.5" fill="#111" font-weight="bold">l</text>
<line x1="164.8" y1="552.5" x2="164.8" y2="662.9" stroke="#777" stroke-width="0.9"/>
<line x1="164.8" y1="662.9" x2="239.4" y2="662.9" stroke="#777" stroke-width="0.9"/>
<line x1="161.8" y1="662.9" x2="164.8" y2="662.9" stroke="#777" stroke-width="0.9"/>
<text x="160.2" y="666.5" font-size="10" text-anchor="end" fill="#222">0</text>
<line x1="161.8" y1="645.1" x2="164.8" y2="645.1" stroke="#777" stroke-width="0.9"/>
<text x="160.2" y="648.7" font-size="10" text-anchor="end" fill="#222">1</text>
<line x1="161.8" y1="627.3" x2="164.8" y2="627.3" stroke="#777" stroke-width="0.9"/>
<text x="160.2" y="630.9" font-size="10" text-anchor="end" fill="#222">2</text>
<line x1="161.8" y1="609.5" x2="164.8" y2="609.5" stroke="#777" stroke-width="0.9"/>
<text x="160.2" y="613.1" font-size="10" text-anchor="end" fill="#222">3</text>
<line x1="161.8" y1="591.7" x2="164.8" y2="591.7" stroke="#777" stroke-width="0.9"/>
<text x="160.2" y="595.3" font-size="10" text-anchor="end" fill="#222">4</text>
<line x1="161.8" y1="573.9" x2="164.8" y2="573.9" stroke="#777" stroke-width="0.9"/>
<text x="160.2" y="577.5" font-size="10" text-anchor="end" fill="#222">5</text>
<line x1="161.8" y1="556.1" x2="164.8" y2="556.1" stroke="#777" stroke-width="0.9"/>
<text x="160.2" y="559.7" font-size="10" text-anchor="end" fill="#222">6</text>
<rect x="177.8" y="558.7" width="10.9" height="104.2" fill="#8e8f92"/>
<rect x="215" y="564.2" width="10.9" height="98.7" fill="#1f74b6"/>
<line x1="183.2" y1="662.9" x2="183.2" y2="665.8" stroke="#777" stroke-width="0.9"/>
<line x1="220.4" y1="662.9" x2="220.4" y2="665.8" stroke="#777" stroke-width="0.9"/>
<circle cx="183.4" cy="558.5" r="2" fill="#222"/>
<circle cx="220.6" cy="563.6" r="2" fill="#222"/>
<line x1="220.6" y1="559.0" x2="220.6" y2="566.5" stroke="#222" stroke-width="1.1"/>
<path d="M183.2,547.1 V542.4 H219.6 V547.1" fill="none" stroke="#555" stroke-width="0.8"/>
<text x="201.6" y="544.6" font-size="10" text-anchor="middle" fill="#333">***</text>
<text x="148.2" y="608.0" font-size="10.3" text-anchor="middle" fill="#222" transform="rotate(-90 148.2 608)">Non-normality (arb. units)</text>
<text x="166.4" y="672.4" font-size="9.2" fill="#222" transform="rotate(30 166.4 672.4)">PFC-MD</text>
<text x="202.0" y="671.6" font-size="9.2" fill="#222" transform="rotate(30 202 671.6)">PFC-alone</text>
<text x="278.0" y="530.7" font-size="17.5" fill="#111" font-weight="bold">m</text>
<rect x="364.6" y="525.9" width="39.5" height="11.899999999999977" rx="4.6" fill="#dde4e6"/>
<text x="383.2" y="535.4" font-size="9.8" text-anchor="middle" fill="#222">CAC</text>
<rect x="565.1" y="526.3" width="39.89999999999998" height="11.0" rx="4.6" fill="#dde4e6"/>
<text x="585.0" y="535.3" font-size="9.8" text-anchor="middle" fill="#222">RDM</text>
<line x1="320.6" y1="559.6" x2="320.6" y2="667.8" stroke="#777" stroke-width="0.9"/>
<line x1="320.6" y1="667.8" x2="459.4" y2="667.8" stroke="#777" stroke-width="0.9"/>
<line x1="318.1" y1="663.3" x2="320.6" y2="663.3" stroke="#777" stroke-width="0.9"/>
<text x="315.0" y="667.1" font-size="10.4" text-anchor="end" fill="#222">−10</text>
<line x1="318.1" y1="646.1" x2="320.6" y2="646.1" stroke="#777" stroke-width="0.9"/>
<text x="315.0" y="649.9" font-size="10.4" text-anchor="end" fill="#222">10</text>
<line x1="318.1" y1="628.9" x2="320.6" y2="628.9" stroke="#777" stroke-width="0.9"/>
<text x="315.0" y="632.7" font-size="10.4" text-anchor="end" fill="#222">30</text>
<line x1="318.1" y1="611.8" x2="320.6" y2="611.8" stroke="#777" stroke-width="0.9"/>
<text x="315.0" y="615.5" font-size="10.4" text-anchor="end" fill="#222">50</text>
<line x1="318.1" y1="594.6" x2="320.6" y2="594.6" stroke="#777" stroke-width="0.9"/>
<text x="315.0" y="598.4" font-size="10.4" text-anchor="end" fill="#222">70</text>
<line x1="318.1" y1="577.4" x2="320.6" y2="577.4" stroke="#777" stroke-width="0.9"/>
<text x="315.0" y="581.2" font-size="10.4" text-anchor="end" fill="#222">90</text>
<line x1="318.1" y1="560.2" x2="320.6" y2="560.2" stroke="#777" stroke-width="0.9"/>
<text x="315.0" y="564.0" font-size="10.4" text-anchor="end" fill="#222">110</text>
<line x1="334.1" y1="667.8" x2="334.1" y2="670.3" stroke="#777" stroke-width="0.9"/>
<text x="334.1" y="679.5" font-size="10.3" text-anchor="middle" fill="#222">0.9</text>
<line x1="361.8" y1="667.8" x2="361.8" y2="670.3" stroke="#777" stroke-width="0.9"/>
<text x="361.8" y="679.5" font-size="10.3" text-anchor="middle" fill="#222">0.8</text>
<line x1="389.7" y1="667.8" x2="389.7" y2="670.3" stroke="#777" stroke-width="0.9"/>
<text x="389.7" y="679.5" font-size="10.3" text-anchor="middle" fill="#222">0.7</text>
<line x1="417.6" y1="667.8" x2="417.6" y2="670.3" stroke="#777" stroke-width="0.9"/>
<text x="417.6" y="679.5" font-size="10.3" text-anchor="middle" fill="#222">0.6</text>
<line x1="445.9" y1="667.8" x2="445.9" y2="670.3" stroke="#777" stroke-width="0.9"/>
<text x="445.9" y="679.5" font-size="10.3" text-anchor="middle" fill="#222">0.5</text>
<text x="389.7" y="691.0" font-size="10.3" text-anchor="middle" fill="#222">LP/HP cue congruence</text>
<text x="291.9" y="608.6" font-size="10.3" text-anchor="middle" fill="#222" transform="rotate(-90 291.9 608.6)">Angle (deg.)</text>
<path d="M333.80,659.52 L333.80,659.36 L333.80,659.17 L333.64,658.94 L333.44,658.69 L333.21,658.41 L332.96,658.11 L332.67,657.77 L332.35,657.41 L331.99,657.02 L331.60,656.60 L331.14,656.15 L330.60,655.65 L330.01,655.13 L329.38,654.57 L328.73,653.99 L328.07,653.39 L327.43,652.78 L326.83,652.16 L326.28,651.54 L325.80,650.93 L325.36,650.32 L324.92,649.70 L324.50,649.08 L324.10,648.45 L323.74,647.81 L323.42,647.16 L323.17,646.49 L322.99,645.81 L322.90,645.11 L322.90,644.40 L323.02,643.65 L323.26,642.86 L323.60,642.04 L324.01,641.20 L324.48,640.36 L324.98,639.52 L325.50,638.69 L326.00,637.89 L326.48,637.13 L326.90,636.41 L327.30,635.76 L327.71,635.17 L328.14,634.63 L328.56,634.12 L328.98,633.62 L329.38,633.10 L329.76,632.56 L330.11,631.97 L330.43,631.31 L330.70,630.57 L330.92,629.73 L331.09,628.81 L331.22,627.84 L331.32,626.81 L331.40,625.75 L331.47,624.68 L331.55,623.60 L331.64,622.54 L331.75,621.51 L331.90,620.51 L332.09,619.51 L332.31,618.46 L332.56,617.38 L332.81,616.30 L333.08,615.25 L333.33,614.24 L333.57,613.31 L333.78,612.48 L333.80,611.78 L333.80,611.23 L334.40,611.23 L334.40,611.78 L334.42,612.48 L334.63,613.31 L334.87,614.24 L335.12,615.25 L335.39,616.30 L335.64,617.38 L335.89,618.46 L336.11,619.51 L336.30,620.51 L336.45,621.51 L336.56,622.54 L336.65,623.60 L336.73,624.68 L336.80,625.75 L336.88,626.81 L336.98,627.84 L337.11,628.81 L337.28,629.73 L337.50,630.57 L337.77,631.31 L338.09,631.97 L338.44,632.56 L338.82,633.10 L339.23,633.62 L339.64,634.12 L340.06,634.63 L340.49,635.17 L340.90,635.76 L341.30,636.41 L341.72,637.13 L342.20,637.89 L342.70,638.69 L343.22,639.52 L343.72,640.36 L344.19,641.20 L344.60,642.04 L344.94,642.86 L345.18,643.65 L345.30,644.40 L345.30,645.11 L345.21,645.81 L345.03,646.49 L344.78,647.16 L344.46,647.81 L344.10,648.45 L343.70,649.08 L343.28,649.70 L342.84,650.32 L342.40,650.93 L341.92,651.54 L341.37,652.16 L340.77,652.78 L340.13,653.39 L339.48,653.99 L338.82,654.57 L338.19,655.13 L337.60,655.65 L337.06,656.15 L336.60,656.60 L336.21,657.02 L335.85,657.41 L335.53,657.77 L335.24,658.11 L334.99,658.41 L334.76,658.69 L334.56,658.94 L334.40,659.17 L334.40,659.36 L334.40,659.52 Z" fill="#a2c4ee" stroke="#727272" stroke-width="0.85" stroke-linejoin="round"/>
<circle cx="334.1" cy="621.2" r="1.1" fill="#7d7d7d"/>
<circle cx="334.1" cy="622.9" r="1.1" fill="#7d7d7d"/>
<circle cx="334.1" cy="624.6" r="1.1" fill="#7d7d7d"/>
<circle cx="334.1" cy="627.2" r="1.1" fill="#7d7d7d"/>
<circle cx="334.1" cy="630.7" r="1.1" fill="#7d7d7d"/>
<circle cx="334.1" cy="638.4" r="1.1" fill="#7d7d7d"/>
<circle cx="334.1" cy="641.0" r="1.1" fill="#7d7d7d"/>
<circle cx="334.1" cy="641.8" r="1.1" fill="#7d7d7d"/>
<circle cx="334.1" cy="642.7" r="1.1" fill="#7d7d7d"/>
<circle cx="334.1" cy="643.5" r="1.1" fill="#7d7d7d"/>
<circle cx="334.1" cy="644.4" r="1.1" fill="#7d7d7d"/>
<circle cx="334.1" cy="645.3" r="1.1" fill="#7d7d7d"/>
<circle cx="334.1" cy="646.1" r="1.1" fill="#7d7d7d"/>
<circle cx="334.1" cy="647.0" r="1.1" fill="#7d7d7d"/>
<circle cx="334.1" cy="647.8" r="1.1" fill="#7d7d7d"/>
<circle cx="334.1" cy="648.7" r="1.1" fill="#7d7d7d"/>
<path d="M361.50,661.67 L361.50,661.38 L361.50,661.03 L361.47,660.63 L361.33,660.17 L361.17,659.67 L360.99,659.12 L360.78,658.54 L360.55,657.92 L360.29,657.27 L360.00,656.60 L359.66,655.88 L359.26,655.08 L358.82,654.24 L358.34,653.35 L357.86,652.44 L357.37,651.51 L356.89,650.59 L356.45,649.69 L356.04,648.83 L355.70,648.01 L355.40,647.22 L355.12,646.45 L354.86,645.69 L354.62,644.95 L354.41,644.22 L354.23,643.51 L354.07,642.80 L353.95,642.12 L353.86,641.45 L353.80,640.79 L353.78,640.16 L353.80,639.57 L353.85,639.00 L353.94,638.45 L354.05,637.91 L354.19,637.37 L354.34,636.82 L354.52,636.25 L354.70,635.66 L354.90,635.03 L355.12,634.38 L355.38,633.73 L355.67,633.07 L355.97,632.39 L356.29,631.70 L356.62,630.98 L356.94,630.24 L357.25,629.47 L357.54,628.66 L357.80,627.82 L358.04,626.93 L358.28,626.00 L358.50,625.04 L358.72,624.04 L358.93,623.02 L359.13,621.98 L359.32,620.92 L359.49,619.85 L359.65,618.76 L359.80,617.68 L359.93,616.57 L360.03,615.43 L360.12,614.26 L360.19,613.07 L360.25,611.87 L360.31,610.68 L360.37,609.49 L360.43,608.32 L360.51,607.18 L360.60,606.08 L360.71,604.97 L360.83,603.81 L360.97,602.63 L361.11,601.46 L361.25,600.33 L361.39,599.25 L361.50,598.26 L361.50,597.37 L361.50,596.62 L361.50,596.03 L362.10,596.03 L362.10,596.62 L362.10,597.37 L362.10,598.26 L362.21,599.25 L362.35,600.33 L362.49,601.46 L362.63,602.63 L362.77,603.81 L362.89,604.97 L363.00,606.08 L363.09,607.18 L363.17,608.32 L363.23,609.49 L363.29,610.68 L363.35,611.87 L363.41,613.07 L363.48,614.26 L363.57,615.43 L363.67,616.57 L363.80,617.68 L363.95,618.76 L364.11,619.85 L364.28,620.92 L364.47,621.98 L364.67,623.02 L364.88,624.04 L365.10,625.04 L365.32,626.00 L365.56,626.93 L365.80,627.82 L366.06,628.66 L366.35,629.47 L366.66,630.24 L366.98,630.98 L367.31,631.70 L367.63,632.39 L367.93,633.07 L368.22,633.73 L368.48,634.38 L368.70,635.03 L368.90,635.66 L369.08,636.25 L369.26,636.82 L369.41,637.37 L369.55,637.91 L369.66,638.45 L369.75,639.00 L369.80,639.57 L369.82,640.16 L369.80,640.79 L369.74,641.45 L369.65,642.12 L369.53,642.80 L369.37,643.51 L369.19,644.22 L368.98,644.95 L368.74,645.69 L368.48,646.45 L368.20,647.22 L367.90,648.01 L367.56,648.83 L367.15,649.69 L366.71,650.59 L366.23,651.51 L365.74,652.44 L365.26,653.35 L364.78,654.24 L364.34,655.08 L363.94,655.88 L363.60,656.60 L363.31,657.27 L363.05,657.92 L362.82,658.54 L362.61,659.12 L362.43,659.67 L362.27,660.17 L362.13,660.63 L362.10,661.03 L362.10,661.38 L362.10,661.67 Z" fill="#f6b486" stroke="#727272" stroke-width="0.85" stroke-linejoin="round"/>
<circle cx="361.8" cy="609.2" r="1.1" fill="#7d7d7d"/>
<circle cx="361.8" cy="610.0" r="1.1" fill="#7d7d7d"/>
<circle cx="361.8" cy="610.9" r="1.1" fill="#7d7d7d"/>
<circle cx="361.8" cy="613.5" r="1.1" fill="#7d7d7d"/>
<circle cx="361.8" cy="622.1" r="1.1" fill="#7d7d7d"/>
<circle cx="361.8" cy="626.4" r="1.1" fill="#7d7d7d"/>
<circle cx="361.8" cy="630.7" r="1.1" fill="#7d7d7d"/>
<circle cx="361.8" cy="633.2" r="1.1" fill="#7d7d7d"/>
<circle cx="361.8" cy="635.8" r="1.1" fill="#7d7d7d"/>
<circle cx="361.8" cy="638.4" r="1.1" fill="#7d7d7d"/>
<circle cx="361.8" cy="640.1" r="1.1" fill="#7d7d7d"/>
<circle cx="361.8" cy="642.7" r="1.1" fill="#7d7d7d"/>
<circle cx="361.8" cy="644.4" r="1.1" fill="#7d7d7d"/>
<circle cx="361.8" cy="647.0" r="1.1" fill="#7d7d7d"/>
<path d="M389.40,665.96 L389.40,665.23 L389.39,664.29 L389.19,663.18 L388.95,661.93 L388.71,660.59 L388.45,659.19 L388.19,657.76 L387.94,656.36 L387.71,655.01 L387.50,653.76 L387.30,652.58 L387.10,651.41 L386.89,650.24 L386.69,649.08 L386.49,647.93 L386.31,646.78 L386.15,645.63 L386.00,644.47 L385.89,643.32 L385.80,642.16 L385.75,641.01 L385.73,639.87 L385.73,638.73 L385.76,637.59 L385.80,636.45 L385.86,635.30 L385.92,634.14 L385.98,632.97 L386.04,631.78 L386.10,630.57 L386.16,629.34 L386.23,628.10 L386.32,626.85 L386.40,625.58 L386.49,624.30 L386.58,623.01 L386.66,621.71 L386.72,620.38 L386.77,619.04 L386.80,617.68 L386.80,616.28 L386.77,614.83 L386.71,613.34 L386.65,611.84 L386.57,610.33 L386.50,608.82 L386.44,607.34 L386.40,605.89 L386.38,604.49 L386.40,603.16 L386.44,601.89 L386.51,600.69 L386.59,599.53 L386.68,598.41 L386.79,597.31 L386.91,596.22 L387.04,595.13 L387.19,594.02 L387.34,592.89 L387.50,591.73 L387.69,590.48 L387.90,589.13 L388.15,587.72 L388.41,586.29 L388.67,584.87 L388.93,583.52 L389.17,582.26 L389.38,581.13 L389.40,580.18 L389.40,579.45 L390.00,579.45 L390.00,580.18 L390.02,581.13 L390.23,582.26 L390.47,583.52 L390.73,584.87 L390.99,586.29 L391.25,587.72 L391.50,589.13 L391.71,590.48 L391.90,591.73 L392.06,592.89 L392.21,594.02 L392.36,595.13 L392.49,596.22 L392.61,597.31 L392.72,598.41 L392.81,599.53 L392.89,600.69 L392.96,601.89 L393.00,603.16 L393.02,604.49 L393.00,605.89 L392.96,607.34 L392.90,608.82 L392.82,610.33 L392.75,611.84 L392.69,613.34 L392.63,614.83 L392.60,616.28 L392.60,617.68 L392.63,619.04 L392.68,620.38 L392.74,621.71 L392.82,623.01 L392.91,624.30 L393.00,625.58 L393.08,626.85 L393.17,628.10 L393.24,629.34 L393.30,630.57 L393.36,631.78 L393.42,632.97 L393.48,634.14 L393.54,635.30 L393.60,636.45 L393.64,637.59 L393.67,638.73 L393.67,639.87 L393.65,641.01 L393.60,642.16 L393.51,643.32 L393.40,644.47 L393.25,645.63 L393.09,646.78 L392.91,647.93 L392.71,649.08 L392.51,650.24 L392.30,651.41 L392.10,652.58 L391.90,653.76 L391.69,655.01 L391.46,656.36 L391.21,657.76 L390.95,659.19 L390.69,660.59 L390.45,661.93 L390.21,663.18 L390.01,664.29 L390.00,665.23 L390.00,665.96 Z" fill="#8fd494" stroke="#727272" stroke-width="0.85" stroke-linejoin="round"/>
<circle cx="389.7" cy="598.9" r="1.1" fill="#7d7d7d"/>
<circle cx="389.7" cy="601.4" r="1.1" fill="#7d7d7d"/>
<circle cx="389.7" cy="604.9" r="1.1" fill="#7d7d7d"/>
<circle cx="389.7" cy="607.5" r="1.1" fill="#7d7d7d"/>
<circle cx="389.7" cy="610.0" r="1.1" fill="#7d7d7d"/>
<circle cx="389.7" cy="613.5" r="1.1" fill="#7d7d7d"/>
<circle cx="389.7" cy="617.8" r="1.1" fill="#7d7d7d"/>
<circle cx="389.7" cy="628.9" r="1.1" fill="#7d7d7d"/>
<circle cx="389.7" cy="630.7" r="1.1" fill="#7d7d7d"/>
<circle cx="389.7" cy="635.8" r="1.1" fill="#7d7d7d"/>
<circle cx="389.7" cy="639.2" r="1.1" fill="#7d7d7d"/>
<circle cx="389.7" cy="641.8" r="1.1" fill="#7d7d7d"/>
<circle cx="389.7" cy="644.4" r="1.1" fill="#7d7d7d"/>
<circle cx="389.7" cy="647.0" r="1.1" fill="#7d7d7d"/>
<path d="M417.30,648.44 L417.30,647.58 L417.30,646.46 L417.30,645.14 L417.23,643.65 L417.11,642.06 L416.98,640.40 L416.87,638.72 L416.76,637.08 L416.67,635.52 L416.60,634.09 L416.56,632.74 L416.53,631.41 L416.52,630.10 L416.52,628.81 L416.53,627.53 L416.53,626.26 L416.54,625.02 L416.54,623.79 L416.53,622.57 L416.50,621.37 L416.47,620.19 L416.44,619.03 L416.41,617.88 L416.38,616.74 L416.34,615.63 L416.29,614.53 L416.23,613.44 L416.14,612.38 L416.04,611.32 L415.90,610.29 L415.73,609.28 L415.53,608.30 L415.29,607.34 L415.04,606.40 L414.78,605.47 L414.50,604.55 L414.23,603.63 L413.97,602.71 L413.72,601.78 L413.50,600.84 L413.28,599.89 L413.04,598.94 L412.80,597.99 L412.56,597.03 L412.33,596.08 L412.12,595.13 L411.95,594.17 L411.81,593.22 L411.73,592.26 L411.70,591.30 L411.74,590.35 L411.84,589.41 L411.98,588.47 L412.17,587.53 L412.39,586.59 L412.63,585.64 L412.88,584.68 L413.13,583.70 L413.37,582.70 L413.60,581.68 L413.82,580.63 L414.06,579.54 L414.31,578.44 L414.56,577.31 L414.82,576.18 L415.07,575.04 L415.32,573.91 L415.56,572.79 L415.79,571.68 L416.00,570.60 L416.20,569.49 L416.40,568.32 L416.59,567.12 L416.77,565.92 L416.95,564.75 L417.11,563.63 L417.26,562.60 L417.30,561.68 L417.30,560.90 L417.30,560.29 L417.90,560.29 L417.90,560.90 L417.90,561.68 L417.94,562.60 L418.09,563.63 L418.25,564.75 L418.43,565.92 L418.61,567.12 L418.80,568.32 L419.00,569.49 L419.20,570.60 L419.41,571.68 L419.64,572.79 L419.88,573.91 L420.13,575.04 L420.38,576.18 L420.64,577.31 L420.89,578.44 L421.14,579.54 L421.38,580.63 L421.60,581.68 L421.83,582.70 L422.07,583.70 L422.32,584.68 L422.57,585.64 L422.81,586.59 L423.03,587.53 L423.22,588.47 L423.36,589.41 L423.46,590.35 L423.50,591.30 L423.47,592.26 L423.39,593.22 L423.25,594.17 L423.08,595.13 L422.87,596.08 L422.64,597.03 L422.40,597.99 L422.16,598.94 L421.92,599.89 L421.70,600.84 L421.48,601.78 L421.23,602.71 L420.97,603.63 L420.70,604.55 L420.43,605.47 L420.16,606.40 L419.91,607.34 L419.67,608.30 L419.47,609.28 L419.30,610.29 L419.16,611.32 L419.06,612.38 L418.97,613.44 L418.91,614.53 L418.86,615.63 L418.82,616.74 L418.79,617.88 L418.76,619.03 L418.73,620.19 L418.70,621.37 L418.67,622.57 L418.66,623.79 L418.66,625.02 L418.67,626.26 L418.68,627.53 L418.68,628.81 L418.68,630.10 L418.67,631.41 L418.64,632.74 L418.60,634.09 L418.53,635.52 L418.44,637.08 L418.33,638.72 L418.22,640.40 L418.09,642.06 L417.97,643.65 L417.90,645.14 L417.90,646.46 L417.90,647.58 L417.90,648.44 Z" fill="#f3a29f" stroke="#727272" stroke-width="0.85" stroke-linejoin="round"/>
<circle cx="417.6" cy="577.4" r="1.1" fill="#7d7d7d"/>
<circle cx="417.6" cy="584.3" r="1.1" fill="#7d7d7d"/>
<circle cx="417.6" cy="586.0" r="1.1" fill="#7d7d7d"/>
<circle cx="417.6" cy="587.7" r="1.1" fill="#7d7d7d"/>
<circle cx="417.6" cy="589.4" r="1.1" fill="#7d7d7d"/>
<circle cx="417.6" cy="591.1" r="1.1" fill="#7d7d7d"/>
<circle cx="417.6" cy="592.8" r="1.1" fill="#7d7d7d"/>
<circle cx="417.6" cy="597.1" r="1.1" fill="#7d7d7d"/>
<circle cx="417.6" cy="601.4" r="1.1" fill="#7d7d7d"/>
<circle cx="417.6" cy="607.5" r="1.1" fill="#7d7d7d"/>
<circle cx="417.6" cy="611.8" r="1.1" fill="#7d7d7d"/>
<circle cx="417.6" cy="617.8" r="1.1" fill="#7d7d7d"/>
<circle cx="417.6" cy="624.6" r="1.1" fill="#7d7d7d"/>
<circle cx="417.6" cy="628.9" r="1.1" fill="#7d7d7d"/>
<circle cx="417.6" cy="630.7" r="1.1" fill="#7d7d7d"/>
<path d="M445.60,650.84 L445.60,649.72 L445.60,648.24 L445.60,646.47 L445.56,644.50 L445.44,642.39 L445.33,640.23 L445.21,638.08 L445.10,636.04 L444.99,634.17 L444.90,632.54 L444.82,631.14 L444.74,629.85 L444.67,628.66 L444.60,627.56 L444.53,626.51 L444.47,625.49 L444.40,624.49 L444.34,623.49 L444.27,622.45 L444.20,621.37 L444.13,620.28 L444.06,619.23 L443.99,618.19 L443.92,617.16 L443.86,616.13 L443.79,615.07 L443.72,613.97 L443.65,612.81 L443.57,611.59 L443.50,610.29 L443.42,608.88 L443.35,607.37 L443.27,605.77 L443.20,604.13 L443.12,602.44 L443.04,600.75 L442.96,599.08 L442.87,597.45 L442.79,595.88 L442.70,594.39 L442.59,592.99 L442.46,591.62 L442.31,590.30 L442.16,589.00 L442.01,587.74 L441.88,586.50 L441.77,585.27 L441.70,584.07 L441.67,582.87 L441.70,581.68 L441.79,580.50 L441.94,579.35 L442.13,578.21 L442.36,577.09 L442.61,575.99 L442.88,574.90 L443.15,573.81 L443.42,572.74 L443.67,571.67 L443.90,570.60 L444.12,569.49 L444.34,568.32 L444.58,567.12 L444.81,565.92 L445.04,564.75 L445.25,563.63 L445.45,562.60 L445.60,561.68 L445.60,560.90 L445.60,560.29 L446.20,560.29 L446.20,560.90 L446.20,561.68 L446.35,562.60 L446.55,563.63 L446.76,564.75 L446.99,565.92 L447.22,567.12 L447.46,568.32 L447.68,569.49 L447.90,570.60 L448.13,571.67 L448.38,572.74 L448.65,573.81 L448.92,574.90 L449.19,575.99 L449.44,577.09 L449.67,578.21 L449.86,579.35 L450.01,580.50 L450.10,581.68 L450.13,582.87 L450.10,584.07 L450.03,585.27 L449.92,586.50 L449.79,587.74 L449.64,589.00 L449.49,590.30 L449.34,591.62 L449.21,592.99 L449.10,594.39 L449.01,595.88 L448.93,597.45 L448.84,599.08 L448.76,600.75 L448.68,602.44 L448.60,604.13 L448.53,605.77 L448.45,607.37 L448.38,608.88 L448.30,610.29 L448.23,611.59 L448.15,612.81 L448.08,613.97 L448.01,615.07 L447.94,616.13 L447.88,617.16 L447.81,618.19 L447.74,619.23 L447.67,620.28 L447.60,621.37 L447.53,622.45 L447.46,623.49 L447.40,624.49 L447.33,625.49 L447.27,626.51 L447.20,627.56 L447.13,628.66 L447.06,629.85 L446.98,631.14 L446.90,632.54 L446.81,634.17 L446.70,636.04 L446.59,638.08 L446.47,640.23 L446.36,642.39 L446.24,644.50 L446.20,646.47 L446.20,648.24 L446.20,649.72 L446.20,650.84 Z" fill="#cdb4de" stroke="#727272" stroke-width="0.85" stroke-linejoin="round"/>
<circle cx="445.9" cy="578.2" r="1.1" fill="#7d7d7d"/>
<circle cx="445.9" cy="580.0" r="1.1" fill="#7d7d7d"/>
<circle cx="445.9" cy="581.7" r="1.1" fill="#7d7d7d"/>
<circle cx="445.9" cy="583.4" r="1.1" fill="#7d7d7d"/>
<circle cx="445.9" cy="586.8" r="1.1" fill="#7d7d7d"/>
<circle cx="445.9" cy="592.0" r="1.1" fill="#7d7d7d"/>
<circle cx="445.9" cy="598.9" r="1.1" fill="#7d7d7d"/>
<circle cx="445.9" cy="603.2" r="1.1" fill="#7d7d7d"/>
<circle cx="445.9" cy="607.5" r="1.1" fill="#7d7d7d"/>
<circle cx="445.9" cy="611.8" r="1.1" fill="#7d7d7d"/>
<circle cx="445.9" cy="616.0" r="1.1" fill="#7d7d7d"/>
<circle cx="445.9" cy="618.6" r="1.1" fill="#7d7d7d"/>
<path d="M334.3,593.2 V588.9 H362.5 V593.2" fill="none" stroke="#666" stroke-width="0.85"/>
<text x="347.9" y="586.8" font-size="8.5" text-anchor="middle" fill="#333">ns</text>
<path d="M362.4,576.4 V571.8 H389.8 V576.4" fill="none" stroke="#666" stroke-width="0.85"/>
<text x="376.5" y="569.5" font-size="8.5" text-anchor="middle" fill="#333">ns</text>
<path d="M390.4,558.7 V554.3 H418.3 V558.7" fill="none" stroke="#666" stroke-width="0.85"/>
<text x="403.8" y="551.4" font-size="8.5" text-anchor="middle" fill="#333">p=0.0038</text>
<path d="M418.2,540.4 V535.6 H446.2 V540.4" fill="none" stroke="#666" stroke-width="0.85"/>
<text x="433.5" y="533.9" font-size="8.5" text-anchor="middle" fill="#333">ns</text>
<line x1="527.4" y1="556.8" x2="527.4" y2="666.1" stroke="#777" stroke-width="0.9"/>
<line x1="527.4" y1="666.1" x2="666.5" y2="666.1" stroke="#777" stroke-width="0.9"/>
<line x1="524.9" y1="662.6" x2="527.4" y2="662.6" stroke="#777" stroke-width="0.9"/>
<text x="521.8" y="666.4" font-size="10.4" text-anchor="end" fill="#222">−10</text>
<line x1="524.9" y1="645.3" x2="527.4" y2="645.3" stroke="#777" stroke-width="0.9"/>
<text x="521.8" y="649.1" font-size="10.4" text-anchor="end" fill="#222">10</text>
<line x1="524.9" y1="628.1" x2="527.4" y2="628.1" stroke="#777" stroke-width="0.9"/>
<text x="521.8" y="631.9" font-size="10.4" text-anchor="end" fill="#222">30</text>
<line x1="524.9" y1="610.8" x2="527.4" y2="610.8" stroke="#777" stroke-width="0.9"/>
<text x="521.8" y="614.6" font-size="10.4" text-anchor="end" fill="#222">50</text>
<line x1="524.9" y1="593.5" x2="527.4" y2="593.5" stroke="#777" stroke-width="0.9"/>
<text x="521.8" y="597.3" font-size="10.4" text-anchor="end" fill="#222">70</text>
<line x1="524.9" y1="576.3" x2="527.4" y2="576.3" stroke="#777" stroke-width="0.9"/>
<text x="521.8" y="580.1" font-size="10.4" text-anchor="end" fill="#222">90</text>
<line x1="524.9" y1="559.0" x2="527.4" y2="559.0" stroke="#777" stroke-width="0.9"/>
<text x="521.8" y="562.8" font-size="10.4" text-anchor="end" fill="#222">110</text>
<line x1="541.6" y1="666.1" x2="541.6" y2="668.6" stroke="#777" stroke-width="0.9"/>
<text x="541.6" y="677.8" font-size="10.3" text-anchor="middle" fill="#222">0.9</text>
<line x1="569.2" y1="666.1" x2="569.2" y2="668.6" stroke="#777" stroke-width="0.9"/>
<text x="569.2" y="677.8" font-size="10.3" text-anchor="middle" fill="#222">0.7</text>
<line x1="597.1" y1="666.1" x2="597.1" y2="668.6" stroke="#777" stroke-width="0.9"/>
<text x="597.1" y="677.8" font-size="10.3" text-anchor="middle" fill="#222">0.5</text>
<line x1="624.4" y1="666.1" x2="624.4" y2="668.6" stroke="#777" stroke-width="0.9"/>
<text x="624.4" y="677.8" font-size="10.3" text-anchor="middle" fill="#222">0.3</text>
<line x1="652.0" y1="666.1" x2="652.0" y2="668.6" stroke="#777" stroke-width="0.9"/>
<text x="652.0" y="677.8" font-size="10.3" text-anchor="middle" fill="#222">0.1</text>
<text x="597.1" y="690.6" font-size="10.3" text-anchor="middle" fill="#222">Random dot motion coherence</text>
<text x="499.9" y="606.0" font-size="10.3" text-anchor="middle" fill="#222" transform="rotate(-90 499.9 606)">Angle (deg.)</text>
<path d="M541.30,652.50 L541.30,652.38 L540.98,652.23 L540.57,652.05 L540.10,651.86 L539.60,651.64 L539.08,651.42 L538.56,651.18 L538.04,650.95 L537.55,650.73 L537.10,650.51 L536.67,650.31 L536.25,650.10 L535.82,649.90 L535.40,649.70 L534.98,649.49 L534.58,649.28 L534.18,649.06 L533.80,648.83 L533.44,648.60 L533.10,648.36 L532.75,648.10 L532.38,647.82 L532.01,647.53 L531.64,647.24 L531.29,646.94 L530.99,646.64 L530.74,646.34 L530.57,646.05 L530.48,645.77 L530.50,645.51 L530.64,645.25 L530.90,645.00 L531.26,644.76 L531.69,644.53 L532.18,644.30 L532.69,644.07 L533.21,643.85 L533.72,643.62 L534.19,643.40 L534.60,643.18 L534.98,642.95 L535.35,642.74 L535.72,642.53 L536.09,642.32 L536.44,642.11 L536.79,641.90 L537.12,641.69 L537.43,641.47 L537.73,641.25 L538.00,641.02 L538.25,640.78 L538.48,640.54 L538.70,640.30 L538.90,640.05 L539.08,639.80 L539.25,639.55 L539.41,639.28 L539.55,639.01 L539.68,638.72 L539.80,638.43 L539.90,638.11 L539.99,637.78 L540.06,637.43 L540.11,637.07 L540.16,636.70 L540.19,636.33 L540.22,635.97 L540.25,635.62 L540.27,635.29 L540.30,634.97 L540.32,634.68 L540.33,634.42 L540.32,634.17 L540.32,633.93 L540.31,633.69 L540.30,633.46 L540.30,633.22 L540.32,632.96 L540.35,632.68 L540.40,632.38 L540.48,632.04 L540.59,631.65 L540.72,631.24 L540.86,630.80 L541.01,630.37 L541.15,629.94 L541.29,629.55 L541.30,629.19 L541.30,628.90 L541.30,628.67 L541.90,628.67 L541.90,628.90 L541.90,629.19 L541.91,629.55 L542.05,629.94 L542.19,630.37 L542.34,630.80 L542.48,631.24 L542.61,631.65 L542.72,632.04 L542.80,632.38 L542.85,632.68 L542.88,632.96 L542.90,633.22 L542.90,633.46 L542.89,633.69 L542.88,633.93 L542.88,634.17 L542.87,634.42 L542.88,634.68 L542.90,634.97 L542.93,635.29 L542.95,635.62 L542.98,635.97 L543.01,636.33 L543.04,636.70 L543.09,637.07 L543.14,637.43 L543.21,637.78 L543.30,638.11 L543.40,638.43 L543.52,638.72 L543.65,639.01 L543.79,639.28 L543.95,639.55 L544.12,639.80 L544.30,640.05 L544.50,640.30 L544.72,640.54 L544.95,640.78 L545.20,641.02 L545.47,641.25 L545.77,641.47 L546.08,641.69 L546.41,641.90 L546.76,642.11 L547.11,642.32 L547.48,642.53 L547.85,642.74 L548.22,642.95 L548.60,643.18 L549.01,643.40 L549.48,643.62 L549.99,643.85 L550.51,644.07 L551.02,644.30 L551.51,644.53 L551.94,644.76 L552.30,645.00 L552.56,645.25 L552.70,645.51 L552.72,645.77 L552.63,646.05 L552.46,646.34 L552.21,646.64 L551.91,646.94 L551.56,647.24 L551.19,647.53 L550.82,647.82 L550.45,648.10 L550.10,648.36 L549.76,648.60 L549.40,648.83 L549.02,649.06 L548.62,649.28 L548.22,649.49 L547.80,649.70 L547.38,649.90 L546.95,650.10 L546.53,650.31 L546.10,650.51 L545.65,650.73 L545.16,650.95 L544.64,651.18 L544.12,651.42 L543.60,651.64 L543.10,651.86 L542.63,652.05 L542.22,652.23 L541.90,652.38 L541.90,652.50 Z" fill="#a2c4ee" stroke="#727272" stroke-width="0.85" stroke-linejoin="round"/>
<circle cx="541.6" cy="635.0" r="1.1" fill="#7d7d7d"/>
<circle cx="541.6" cy="637.6" r="1.1" fill="#7d7d7d"/>
<circle cx="541.6" cy="640.2" r="1.1" fill="#7d7d7d"/>
<circle cx="541.6" cy="641.9" r="1.1" fill="#7d7d7d"/>
<circle cx="541.6" cy="642.7" r="1.1" fill="#7d7d7d"/>
<circle cx="541.6" cy="643.6" r="1.1" fill="#7d7d7d"/>
<circle cx="541.6" cy="644.5" r="1.1" fill="#7d7d7d"/>
<circle cx="541.6" cy="645.3" r="1.1" fill="#7d7d7d"/>
<circle cx="541.6" cy="646.2" r="1.1" fill="#7d7d7d"/>
<circle cx="541.6" cy="647.1" r="1.1" fill="#7d7d7d"/>
<circle cx="541.6" cy="647.9" r="1.1" fill="#7d7d7d"/>
<path d="M568.90,650.43 L568.90,650.17 L568.79,649.85 L568.52,649.48 L568.22,649.06 L567.89,648.60 L567.55,648.11 L567.20,647.60 L566.85,647.08 L566.52,646.55 L566.20,646.02 L565.87,645.51 L565.52,644.99 L565.14,644.47 L564.76,643.93 L564.38,643.37 L564.03,642.79 L563.71,642.16 L563.44,641.49 L563.23,640.77 L563.10,639.98 L563.04,639.10 L563.04,638.13 L563.10,637.08 L563.20,635.98 L563.34,634.85 L563.51,633.72 L563.71,632.61 L563.93,631.54 L564.16,630.54 L564.40,629.62 L564.67,628.81 L564.99,628.10 L565.36,627.46 L565.75,626.86 L566.15,626.28 L566.55,625.68 L566.94,625.06 L567.31,624.37 L567.63,623.60 L567.90,622.71 L568.12,621.66 L568.32,620.43 L568.49,619.09 L568.64,617.67 L568.77,616.24 L568.88,614.84 L568.90,613.53 L568.90,612.35 L568.90,611.37 L568.90,610.63 L569.50,610.63 L569.50,611.37 L569.50,612.35 L569.50,613.53 L569.52,614.84 L569.63,616.24 L569.76,617.67 L569.91,619.09 L570.08,620.43 L570.28,621.66 L570.50,622.71 L570.77,623.60 L571.09,624.37 L571.46,625.06 L571.85,625.68 L572.25,626.28 L572.65,626.86 L573.04,627.46 L573.41,628.10 L573.73,628.81 L574.00,629.62 L574.24,630.54 L574.47,631.54 L574.69,632.61 L574.89,633.72 L575.06,634.85 L575.20,635.98 L575.30,637.08 L575.36,638.13 L575.36,639.10 L575.30,639.98 L575.17,640.77 L574.96,641.49 L574.69,642.16 L574.37,642.79 L574.02,643.37 L573.64,643.93 L573.26,644.47 L572.88,644.99 L572.53,645.51 L572.20,646.02 L571.88,646.55 L571.55,647.08 L571.20,647.60 L570.85,648.11 L570.51,648.60 L570.18,649.06 L569.88,649.48 L569.61,649.85 L569.50,650.17 L569.50,650.43 Z" fill="#f6b486" stroke="#727272" stroke-width="0.85" stroke-linejoin="round"/>
<circle cx="569.2" cy="619.4" r="1.1" fill="#7d7d7d"/>
<circle cx="569.2" cy="629.8" r="1.1" fill="#7d7d7d"/>
<circle cx="569.2" cy="631.5" r="1.1" fill="#7d7d7d"/>
<circle cx="569.2" cy="633.2" r="1.1" fill="#7d7d7d"/>
<circle cx="569.2" cy="635.0" r="1.1" fill="#7d7d7d"/>
<circle cx="569.2" cy="636.7" r="1.1" fill="#7d7d7d"/>
<circle cx="569.2" cy="638.4" r="1.1" fill="#7d7d7d"/>
<circle cx="569.2" cy="640.2" r="1.1" fill="#7d7d7d"/>
<circle cx="569.2" cy="641.9" r="1.1" fill="#7d7d7d"/>
<circle cx="569.2" cy="643.6" r="1.1" fill="#7d7d7d"/>
<circle cx="569.2" cy="645.3" r="1.1" fill="#7d7d7d"/>
<path d="M596.80,655.61 L596.80,655.18 L596.80,654.63 L596.80,653.96 L596.77,653.22 L596.66,652.43 L596.55,651.61 L596.43,650.79 L596.32,650.00 L596.20,649.27 L596.10,648.61 L596.01,648.05 L595.92,647.56 L595.84,647.11 L595.76,646.70 L595.68,646.28 L595.59,645.85 L595.50,645.38 L595.38,644.85 L595.25,644.24 L595.10,643.52 L594.91,642.68 L594.68,641.72 L594.43,640.67 L594.15,639.56 L593.88,638.41 L593.60,637.25 L593.35,636.12 L593.12,635.02 L592.93,634.00 L592.80,633.07 L592.71,632.26 L592.66,631.52 L592.64,630.85 L592.64,630.22 L592.66,629.62 L592.71,629.01 L592.77,628.38 L592.84,627.71 L592.92,626.98 L593.00,626.17 L593.10,625.29 L593.22,624.37 L593.36,623.42 L593.52,622.44 L593.68,621.42 L593.85,620.37 L594.02,619.28 L594.19,618.16 L594.35,617.00 L594.50,615.81 L594.64,614.56 L594.77,613.25 L594.90,611.89 L595.03,610.50 L595.16,609.07 L595.29,607.63 L595.42,606.18 L595.54,604.74 L595.67,603.31 L595.80,601.91 L595.94,600.46 L596.08,598.92 L596.23,597.32 L596.38,595.71 L596.53,594.13 L596.67,592.62 L596.80,591.22 L596.80,589.97 L596.80,588.92 L596.80,588.09 L597.40,588.09 L597.40,588.92 L597.40,589.97 L597.40,591.22 L597.53,592.62 L597.67,594.13 L597.82,595.71 L597.97,597.32 L598.12,598.92 L598.26,600.46 L598.40,601.91 L598.53,603.31 L598.66,604.74 L598.78,606.18 L598.91,607.63 L599.04,609.07 L599.17,610.50 L599.30,611.89 L599.43,613.25 L599.56,614.56 L599.70,615.81 L599.85,617.00 L600.01,618.16 L600.18,619.28 L600.35,620.37 L600.52,621.42 L600.68,622.44 L600.84,623.42 L600.98,624.37 L601.10,625.29 L601.20,626.17 L601.28,626.98 L601.36,627.71 L601.43,628.38 L601.49,629.01 L601.54,629.62 L601.56,630.22 L601.56,630.85 L601.54,631.52 L601.49,632.26 L601.40,633.07 L601.27,634.00 L601.08,635.02 L600.85,636.12 L600.60,637.25 L600.33,638.41 L600.05,639.56 L599.77,640.67 L599.52,641.72 L599.29,642.68 L599.10,643.52 L598.95,644.24 L598.82,644.85 L598.70,645.38 L598.61,645.85 L598.52,646.28 L598.44,646.70 L598.36,647.11 L598.28,647.56 L598.19,648.05 L598.10,648.61 L598.00,649.27 L597.88,650.00 L597.77,650.79 L597.65,651.61 L597.54,652.43 L597.43,653.22 L597.40,653.96 L597.40,654.63 L597.40,655.18 L597.40,655.61 Z" fill="#8fd494" stroke="#727272" stroke-width="0.85" stroke-linejoin="round"/>
<circle cx="597.1" cy="600.4" r="1.1" fill="#7d7d7d"/>
<circle cx="597.1" cy="617.7" r="1.1" fill="#7d7d7d"/>
<circle cx="597.1" cy="621.2" r="1.1" fill="#7d7d7d"/>
<circle cx="597.1" cy="624.6" r="1.1" fill="#7d7d7d"/>
<circle cx="597.1" cy="628.1" r="1.1" fill="#7d7d7d"/>
<circle cx="597.1" cy="630.7" r="1.1" fill="#7d7d7d"/>
<circle cx="597.1" cy="632.4" r="1.1" fill="#7d7d7d"/>
<circle cx="597.1" cy="635.0" r="1.1" fill="#7d7d7d"/>
<circle cx="597.1" cy="636.7" r="1.1" fill="#7d7d7d"/>
<circle cx="597.1" cy="638.4" r="1.1" fill="#7d7d7d"/>
<circle cx="597.1" cy="641.0" r="1.1" fill="#7d7d7d"/>
<path d="M624.10,660.01 L624.10,659.13 L624.10,657.99 L624.10,656.63 L624.01,655.11 L623.88,653.48 L623.75,651.78 L623.62,650.07 L623.50,648.39 L623.39,646.80 L623.30,645.33 L623.23,643.97 L623.16,642.64 L623.11,641.33 L623.06,640.04 L623.01,638.76 L622.97,637.49 L622.93,636.23 L622.89,634.96 L622.85,633.68 L622.80,632.38 L622.75,631.10 L622.68,629.83 L622.62,628.58 L622.55,627.34 L622.48,626.08 L622.42,624.80 L622.37,623.49 L622.33,622.14 L622.31,620.73 L622.30,619.26 L622.32,617.71 L622.35,616.10 L622.41,614.43 L622.47,612.72 L622.54,610.97 L622.62,609.21 L622.70,607.43 L622.78,605.66 L622.84,603.90 L622.90,602.17 L622.95,600.43 L623.00,598.66 L623.04,596.86 L623.08,595.07 L623.12,593.27 L623.16,591.50 L623.20,589.77 L623.24,588.08 L623.27,586.45 L623.30,584.90 L623.32,583.44 L623.34,582.05 L623.35,580.74 L623.36,579.47 L623.37,578.23 L623.38,577.01 L623.39,575.79 L623.42,574.55 L623.45,573.27 L623.50,571.95 L623.57,570.52 L623.65,568.97 L623.75,567.35 L623.85,565.69 L623.96,564.06 L624.07,562.49 L624.10,561.04 L624.10,559.74 L624.10,558.64 L624.10,557.79 L624.70,557.79 L624.70,558.64 L624.70,559.74 L624.70,561.04 L624.73,562.49 L624.84,564.06 L624.95,565.69 L625.05,567.35 L625.15,568.97 L625.23,570.52 L625.30,571.95 L625.35,573.27 L625.38,574.55 L625.41,575.79 L625.42,577.01 L625.43,578.23 L625.44,579.47 L625.45,580.74 L625.46,582.05 L625.48,583.44 L625.50,584.90 L625.53,586.45 L625.56,588.08 L625.60,589.77 L625.64,591.50 L625.67,593.27 L625.72,595.07 L625.76,596.86 L625.80,598.66 L625.85,600.43 L625.90,602.17 L625.96,603.90 L626.02,605.66 L626.10,607.43 L626.18,609.21 L626.26,610.97 L626.33,612.72 L626.39,614.43 L626.45,616.10 L626.48,617.71 L626.50,619.26 L626.49,620.73 L626.47,622.14 L626.43,623.49 L626.38,624.80 L626.32,626.08 L626.25,627.34 L626.18,628.58 L626.12,629.83 L626.05,631.10 L626.00,632.38 L625.95,633.68 L625.91,634.96 L625.87,636.23 L625.83,637.49 L625.79,638.76 L625.74,640.04 L625.69,641.33 L625.64,642.64 L625.57,643.97 L625.50,645.33 L625.41,646.80 L625.30,648.39 L625.18,650.07 L625.05,651.78 L624.92,653.48 L624.79,655.11 L624.70,656.63 L624.70,657.99 L624.70,659.13 L624.70,660.01 Z" fill="#c99a9a" stroke="#727272" stroke-width="0.85" stroke-linejoin="round"/>
<circle cx="624.4" cy="572.0" r="1.0" fill="#7d7d7d"/>
<circle cx="624.4" cy="576.3" r="1.0" fill="#7d7d7d"/>
<circle cx="624.4" cy="580.6" r="1.0" fill="#7d7d7d"/>
<circle cx="624.4" cy="584.9" r="1.0" fill="#7d7d7d"/>
<circle cx="624.4" cy="589.2" r="1.0" fill="#7d7d7d"/>
<circle cx="624.4" cy="593.5" r="1.0" fill="#7d7d7d"/>
<circle cx="624.4" cy="597.9" r="1.0" fill="#7d7d7d"/>
<circle cx="624.4" cy="602.2" r="1.0" fill="#7d7d7d"/>
<circle cx="624.4" cy="606.5" r="1.0" fill="#7d7d7d"/>
<circle cx="624.4" cy="610.8" r="1.0" fill="#7d7d7d"/>
<circle cx="624.4" cy="615.1" r="1.0" fill="#7d7d7d"/>
<circle cx="624.4" cy="617.7" r="1.0" fill="#7d7d7d"/>
<circle cx="624.4" cy="619.4" r="1.0" fill="#7d7d7d"/>
<circle cx="624.4" cy="621.2" r="1.0" fill="#7d7d7d"/>
<circle cx="624.4" cy="623.8" r="1.0" fill="#7d7d7d"/>
<circle cx="624.4" cy="628.1" r="1.0" fill="#7d7d7d"/>
<circle cx="624.4" cy="632.4" r="1.0" fill="#7d7d7d"/>
<circle cx="624.4" cy="636.7" r="1.0" fill="#7d7d7d"/>
<circle cx="624.4" cy="641.0" r="1.0" fill="#7d7d7d"/>
<circle cx="624.4" cy="643.6" r="1.0" fill="#7d7d7d"/>
<circle cx="624.4" cy="647.1" r="1.0" fill="#7d7d7d"/>
<circle cx="624.4" cy="650.5" r="1.0" fill="#7d7d7d"/>
<line x1="624.4" y1="567.6" x2="624.4" y2="654.0" stroke="#7a7a7a" stroke-width="1.2"/>
<circle cx="624.4" cy="600.4" r="0.9" fill="#f08a8a"/>
<circle cx="624.4" cy="612.5" r="0.9" fill="#f08a8a"/>
<circle cx="624.4" cy="619.4" r="0.9" fill="#f08a8a"/>
<circle cx="624.4" cy="629.8" r="0.9" fill="#f08a8a"/>
<path d="M652.20,620.99 L652.20,620.36 L652.20,619.52 L652.20,618.53 L652.17,617.42 L652.06,616.24 L651.95,615.02 L651.83,613.81 L651.72,612.64 L651.60,611.57 L651.50,610.63 L651.41,609.81 L651.32,609.07 L651.24,608.39 L651.16,607.76 L651.08,607.14 L650.99,606.53 L650.89,605.90 L650.78,605.23 L650.65,604.51 L650.50,603.72 L650.31,602.88 L650.07,602.01 L649.79,601.13 L649.50,600.21 L649.20,599.27 L648.92,598.29 L648.67,597.26 L648.48,596.19 L648.35,595.06 L648.30,593.88 L648.34,592.62 L648.46,591.26 L648.64,589.84 L648.87,588.37 L649.14,586.86 L649.42,585.34 L649.72,583.82 L650.00,582.32 L650.27,580.86 L650.50,579.46 L650.72,578.05 L650.94,576.57 L651.18,575.06 L651.41,573.55 L651.64,572.08 L651.85,570.69 L652.05,569.40 L652.20,568.25 L652.20,567.27 L652.20,566.51 L652.80,566.51 L652.80,567.27 L652.80,568.25 L652.95,569.40 L653.15,570.69 L653.36,572.08 L653.59,573.55 L653.82,575.06 L654.06,576.57 L654.28,578.05 L654.50,579.46 L654.73,580.86 L655.00,582.32 L655.28,583.82 L655.58,585.34 L655.86,586.86 L656.13,588.37 L656.36,589.84 L656.54,591.26 L656.66,592.62 L656.70,593.88 L656.65,595.06 L656.52,596.19 L656.33,597.26 L656.08,598.29 L655.80,599.27 L655.50,600.21 L655.21,601.13 L654.93,602.01 L654.69,602.88 L654.50,603.72 L654.35,604.51 L654.22,605.23 L654.11,605.90 L654.01,606.53 L653.92,607.14 L653.84,607.76 L653.76,608.39 L653.68,609.07 L653.59,609.81 L653.50,610.63 L653.40,611.57 L653.28,612.64 L653.17,613.81 L653.05,615.02 L652.94,616.24 L652.83,617.42 L652.80,618.53 L652.80,619.52 L652.80,620.36 L652.80,620.99 Z" fill="#cdb4de" stroke="#727272" stroke-width="0.85" stroke-linejoin="round"/>
<circle cx="652.5" cy="576.3" r="1.1" fill="#7d7d7d"/>
<circle cx="652.5" cy="580.6" r="1.1" fill="#7d7d7d"/>
<circle cx="652.5" cy="586.6" r="1.1" fill="#7d7d7d"/>
<rect x="651.5" y="588.4" width="2" height="12.1" fill="#8a8a8a"/>
<line x1="652.5" y1="573.7" x2="652.5" y2="614.3" stroke="#8a8a8a" stroke-width="0.9"/>
<path d="M541.4,607.6 V603.5 H568.8 V607.6" fill="none" stroke="#666" stroke-width="0.85"/>
<text x="558.3" y="600.3" font-size="8.4" text-anchor="middle" fill="#333">p=0.1x10<tspan font-size="5" dy="-3.2">-4</tspan></text>
<path d="M568.4,585.7 V581.6 H596.5 V585.7" fill="none" stroke="#666" stroke-width="0.85"/>
<text x="581.5" y="579.3" font-size="8.4" text-anchor="middle" fill="#333">p=0.0041</text>
<path d="M596.5,556.5 V551.9 H624.4 V556.5" fill="none" stroke="#666" stroke-width="0.85"/>
<text x="609.4" y="549.2" font-size="8.5" text-anchor="middle" fill="#333">ns</text>
<path d="M623.5,546.4 V542.4 H651.4 V546.4" fill="none" stroke="#666" stroke-width="0.85"/>
<text x="637.0" y="538.8" font-size="8.3" text-anchor="middle" fill="#333">p=0.0011</text>
</svg>
</body></html>
